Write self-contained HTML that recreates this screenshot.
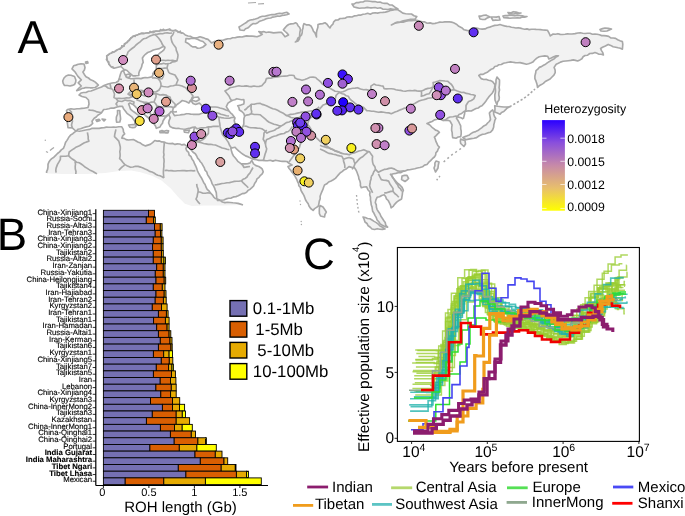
<!DOCTYPE html>
<html><head><meta charset="utf-8"><style>html,body{margin:0;padding:0;background:#fff;overflow:hidden}svg{display:block;will-change:transform;text-rendering:geometricPrecision}</style></head><body>
<svg width="685" height="516" viewBox="0 0 685 516" font-family="&quot;Liberation Sans&quot;, sans-serif">
<rect width="685" height="516" fill="#fff"/>
<defs><linearGradient id="hg" x1="0" y1="0" x2="0" y2="1"><stop offset="0" stop-color="#2a00ff"/><stop offset="0.25" stop-color="#8a4fdc"/><stop offset="0.5" stop-color="#c78aa8"/><stop offset="0.75" stop-color="#e8bf6c"/><stop offset="1" stop-color="#ffff00"/></linearGradient></defs>
<polygon points="46.6,173.0 46.6,171.7 48.0,164.4 51.7,158.6 57.5,153.5 63.4,148.4 65.5,142.5 69.2,136.7 76.5,130.8 75.2,130.5 72.3,127.9 68.0,127.7 67.5,124.0 67.2,121.9 66.8,116.0 66.5,110.5 67.5,109.5 71.0,108.8 77.0,108.8 84.0,108.3 88.0,107.5 89.0,104.0 88.5,100.0 86.0,97.5 82.0,96.5 79.0,95.0 81.0,93.0 86.0,92.5 91.0,91.0 95.0,89.5 98.0,88.3 101.5,87.0 104.0,85.5 108.0,84.0 112.0,83.0 116.0,82.5 118.4,81.0 119.5,77.5 120.5,74.0 121.5,71.5 123.5,70.5 123.5,69.0 121.0,66.5 117.0,67.5 114.0,68.2 110.0,65.5 107.5,61.0 106.7,56.0 110.0,53.5 114.0,52.0 118.0,49.5 121.3,47.7 126.0,43.0 130.0,39.0 136.0,35.3 146.0,33.0 156.0,31.0 168.0,29.5 177.0,31.0 183.0,33.0 188.0,36.0 195.0,38.0 200.0,36.8 208.0,39.4 211.5,42.9 215.0,41.2 225.5,39.4 232.6,37.7 246.6,35.9 257.0,36.8 262.3,34.2 258.8,31.5 271.0,32.4 281.6,32.4 285.0,36.8 288.6,35.0 283.4,29.8 288.6,24.5 295.6,22.8 297.0,23.6 300.5,29.8 299.6,36.8 295.3,42.0 298.0,41.0 301.5,35.0 303.0,28.0 304.0,23.6 311.0,26.0 315.0,33.0 316.5,37.0 317.0,30.0 318.0,24.5 325.0,22.8 330.0,28.0 335.5,20.1 342.6,18.4 356.6,15.8 365.3,14.0 377.6,13.1 388.0,11.4 397.5,9.6 402.8,13.1 411.5,14.0 416.8,16.6 415.0,19.3 406.0,20.3 397.5,22.0 391.4,24.9 397.5,22.8 406.0,21.2 416.8,20.3 422.0,21.9 432.6,23.6 444.8,21.9 453.6,22.8 458.8,26.3 464.1,29.8 469.3,30.7 476.4,28.0 485.1,28.9 492.1,26.3 500.0,24.5 511.4,27.3 524.7,29.2 547.4,30.2 550.3,35.9 553.1,34.0 572.1,34.0 577.8,33.0 594.9,34.0 606.3,35.9 617.7,39.7 622.4,41.6 622.4,49.2 615.8,47.3 608.2,44.4 602.5,47.3 600.6,48.5 603.4,54.9 594.9,52.5 585.0,55.5 580.0,59.9 577.6,61.0 573.3,59.9 565.8,61.0 560.5,62.1 556.2,64.2 554.1,67.4 555.2,72.7 552.0,77.0 547.7,80.2 543.4,83.4 537.6,87.5 536.0,81.2 534.9,75.9 536.0,70.6 539.2,67.4 545.6,64.2 552.0,59.9 558.4,55.7 556.2,55.7 548.8,58.9 547.7,56.2 539.2,56.7 532.8,62.1 526.4,64.2 520.0,62.6 508.2,62.3 498.9,64.7 491.2,69.3 485.0,73.2 478.8,75.5 481.1,78.6 486.5,79.4 492.7,81.7 495.0,84.8 493.5,91.0 490.5,95.0 486.0,101.0 482.0,105.7 476.0,108.5 471.3,111.0 463.9,111.5 459.0,114.5 456.4,118.0 458.6,121.5 460.7,125.9 461.2,131.2 460.7,136.6 456.0,138.2 452.7,137.6 451.6,130.2 452.1,124.8 450.0,121.0 443.1,120.5 440.0,118.9 434.4,119.9 427.0,123.6 432.0,127.3 439.4,132.3 434.4,137.2 436.9,143.4 439.4,147.1 434.4,157.0 427.0,164.5 420.0,167.5 412.1,169.3 405.1,171.0 398.1,172.8 391.1,174.5 394.6,179.8 399.9,185.0 403.4,190.3 401.6,199.0 394.6,204.3 391.1,207.8 389.3,202.6 384.1,194.7 377.1,197.3 375.3,202.6 377.1,209.6 382.3,218.3 387.6,227.1 382.3,225.3 377.1,220.0 372.7,211.3 371.0,202.6 370.0,192.0 366.6,186.8 361.3,187.7 357.8,174.5 354.3,167.5 349.0,166.6 343.8,170.1 340.3,172.8 333.3,179.8 324.5,185.0 321.0,193.8 318.4,206.0 313.1,210.4 309.0,206.0 306.7,201.7 301.7,191.8 296.8,179.4 291.8,172.0 288.0,166.5 292.1,165.0 286.9,161.5 278.1,160.7 267.6,160.7 254.4,159.5 251.8,158.6 248.3,156.9 243.0,154.3 238.6,150.8 235.1,147.3 230.8,148.1 231.6,151.6 235.1,157.8 237.8,161.3 241.3,163.9 245.6,163.9 250.0,163.0 251.8,160.4 253.5,163.9 258.8,166.5 262.3,169.2 263.2,171.8 260.5,175.3 257.0,178.8 253.6,186.0 246.6,192.2 236.0,196.6 223.8,200.0 217.5,200.5 216.8,197.9 215.3,190.1 212.2,183.9 207.5,174.6 202.9,165.3 196.7,156.0 189.7,148.3 190.5,144.5 188.6,145.0 187.4,146.7 185.8,148.3 192.0,159.1 196.7,168.4 201.3,177.7 206.0,187.0 210.6,193.2 215.3,198.5 225.0,202.6 238.0,203.4 243.0,205.0 224.0,205.4 205.0,205.6 191.9,206.0 184.9,203.7 177.9,196.7 170.8,188.6 161.5,180.4 152.1,175.7 140.5,172.2 131.1,170.6 119.4,171.0 105.4,172.9 86.7,174.1 63.4,174.1 47.0,173.4" fill="#f2f2f2" stroke="none"/>
<polyline points="46.6,173.0 46.6,171.7 47.6,169.4 48.0,166.9 48.0,164.4 48.8,162.2 50.1,160.3 51.7,158.6 53.9,157.2 55.7,155.4 57.5,153.5 59.6,151.9 61.3,149.9 63.4,148.4 64.6,145.5 65.5,142.5 66.8,140.6 68.0,138.7 69.2,136.7 70.8,134.9 72.8,133.7 74.6,132.2 76.5,130.8 75.2,130.5 72.3,127.9 68.0,127.7 67.5,124.0 67.2,121.9 67.2,118.9 66.8,116.0 67.2,113.2 66.5,110.5 67.5,109.5 71.0,108.8 74.0,109.3 77.0,108.8 79.3,108.7 81.7,108.4 84.0,108.3 88.0,107.5 89.0,104.0 88.5,100.0 86.0,97.5 82.0,96.5 79.0,95.0 81.0,93.0 83.5,92.5 86.0,92.5 88.4,91.3 91.0,91.0 95.0,89.5 98.0,88.3 101.5,87.0 104.0,85.5 108.0,84.0 112.0,83.0 116.0,82.5 118.4,81.0 119.5,77.5 120.5,74.0 121.5,71.5 123.5,70.5 123.5,69.0 121.0,66.5 117.0,67.5 114.0,68.2 111.7,67.3 110.0,65.5 108.7,63.3 107.5,61.0 106.9,58.5 106.7,56.0 110.0,53.5 114.0,52.0 115.9,50.6 118.0,49.5 121.3,47.7 123.2,46.4 124.5,44.6 126.0,43.0 128.0,41.0 130.0,39.0 131.8,37.5 133.7,36.1 136.0,35.3 138.5,34.5 140.9,33.8 143.5,33.6 146.0,33.0 148.6,33.0 151.0,32.2 153.4,31.2 156.0,31.0 158.5,31.1 160.8,30.7 163.2,30.4 165.7,30.2 168.0,29.5 170.2,30.2 172.4,30.6 174.8,30.5 177.0,31.0 179.8,32.5 183.0,33.0 185.2,34.9 188.0,36.0 190.4,36.3 192.6,37.6 195.0,38.0 197.6,37.6 200.0,36.8 202.7,37.6 205.3,38.6 208.0,39.4 209.8,41.1 211.5,42.9 215.0,41.2 217.7,41.2 220.3,40.3 222.9,40.2 225.5,39.4 227.8,38.7 230.3,38.7 232.6,37.7 235.0,37.8 237.3,37.1 239.6,36.9 242.0,37.0 244.3,36.4 246.6,35.9 249.2,36.1 251.8,36.0 254.4,36.4 257.0,36.8 259.7,35.7 262.3,34.2 260.3,33.1 258.8,31.5 261.2,32.1 263.7,31.6 266.1,32.5 268.6,32.0 271.0,32.4 273.6,32.9 276.3,32.6 279.0,32.4 281.6,32.4 283.3,34.6 285.0,36.8 288.6,35.0 287.0,33.1 285.2,31.5 283.4,29.8 285.0,27.9 286.6,26.0 288.6,24.5 290.9,23.9 293.4,23.8 295.6,22.8 297.0,23.6 298.0,25.7 299.7,27.5 300.5,29.8 299.9,32.1 299.7,34.4 299.6,36.8 297.8,38.2 297.0,40.5 295.3,42.0 298.0,41.0 299.4,39.1 299.9,36.8 301.5,35.0 302.2,32.7 302.3,30.3 303.0,28.0 303.2,25.7 304.0,23.6 306.2,24.8 308.8,24.8 311.0,26.0 312.3,28.3 313.3,30.9 315.0,33.0 316.5,37.0 316.4,34.6 316.5,32.3 317.0,30.0 317.9,27.3 318.0,24.5 320.3,23.9 322.7,23.6 325.0,22.8 327.0,24.2 328.4,26.2 330.0,28.0 331.1,25.8 332.9,24.2 333.7,21.8 335.5,20.1 338.0,20.0 340.1,18.5 342.6,18.4 345.0,18.2 347.2,17.0 349.6,16.8 352.0,17.0 354.2,15.9 356.6,15.8 358.7,15.0 361.0,15.1 363.1,14.3 365.3,14.0 367.7,13.3 370.3,14.2 372.7,13.1 375.1,12.8 377.6,13.1 380.2,12.5 382.8,12.4 385.4,12.1 388.0,11.4 390.3,10.5 392.7,10.3 395.0,9.5 397.5,9.6 400.2,11.3 402.8,13.1 405.7,13.7 408.6,14.0 411.5,14.0 414.0,15.7 416.8,16.6 415.0,19.3 412.7,19.3 410.5,19.4 408.2,19.8 406.0,20.3 403.2,20.9 400.4,21.7 397.5,22.0 395.4,22.8 393.5,24.1 391.4,24.9 394.3,23.4 397.5,22.8 400.3,22.2 403.2,22.1 406.0,21.2 408.7,20.6 411.4,20.8 414.1,20.4 416.8,20.3 419.4,21.1 422.0,21.9 424.7,21.9 427.2,23.2 430.0,22.9 432.6,23.6 435.1,23.4 437.5,22.8 439.8,22.1 442.4,22.3 444.8,21.9 447.0,21.7 449.2,21.9 451.5,22.1 453.6,22.8 456.4,24.2 458.8,26.3 461.7,27.7 464.1,29.8 466.7,30.4 469.3,30.7 471.7,29.8 474.2,29.4 476.4,28.0 479.3,28.8 482.1,29.1 485.1,28.9 487.3,27.8 489.7,27.1 492.1,26.3 494.7,25.4 497.4,25.2 500.0,24.5 502.2,25.2 504.5,25.9 506.8,26.4 509.2,26.5 511.4,27.3 513.6,27.5 515.8,28.0 518.1,27.7 520.3,28.1 522.5,28.8 524.7,29.2 527.0,28.9 529.2,29.6 531.5,29.2 533.8,29.2 536.1,29.4 538.3,29.5 540.6,29.6 542.9,30.0 545.1,30.1 547.4,30.2 549.0,33.0 550.3,35.9 553.1,34.0 555.5,34.2 557.9,33.7 560.2,34.4 562.6,34.5 565.0,34.3 567.4,33.9 569.7,34.0 572.1,34.0 575.0,33.6 577.8,33.0 580.3,32.7 582.7,33.2 585.1,33.5 587.6,33.2 590.0,33.3 592.4,34.2 594.9,34.0 597.2,34.2 599.5,34.8 601.7,35.6 604.0,35.6 606.3,35.9 608.7,36.4 610.7,37.9 613.2,38.0 615.6,38.4 617.7,39.7 620.0,40.8 622.4,41.6 622.8,44.1 622.6,46.7 622.4,49.2 620.3,48.2 618.1,47.8 615.8,47.3 613.1,46.8 610.7,45.4 608.2,44.4 605.4,45.9 602.5,47.3 600.6,48.5 601.5,50.6 602.8,52.6 603.4,54.9 601.3,54.2 599.0,54.2 597.0,53.3 594.9,52.5 592.5,53.4 589.8,53.5 587.6,55.2 585.0,55.5 583.1,56.8 581.9,58.7 580.0,59.9 577.6,61.0 575.5,60.4 573.3,59.9 570.8,60.4 568.3,60.7 565.8,61.0 563.1,61.3 560.5,62.1 558.4,63.3 556.2,64.2 554.1,67.4 555.1,70.0 555.2,72.7 553.9,75.1 552.0,77.0 550.1,79.0 547.7,80.2 545.3,81.5 543.4,83.4 541.4,84.6 539.2,85.7 537.6,87.5 537.0,84.3 536.0,81.2 534.9,78.7 534.9,75.9 535.6,73.3 536.0,70.6 537.8,69.2 539.2,67.4 541.4,66.6 543.5,65.3 545.6,64.2 547.6,62.6 549.8,61.3 552.0,59.9 554.3,58.8 556.1,56.9 558.4,55.7 556.2,55.7 553.7,56.7 551.3,57.9 548.8,58.9 547.7,56.2 544.8,55.9 542.0,56.2 539.2,56.7 536.8,58.1 534.7,60.0 532.8,62.1 530.7,63.0 528.6,63.8 526.4,64.2 523.2,63.4 520.0,62.6 517.6,62.8 515.3,62.6 512.9,62.2 510.6,61.9 508.2,62.3 505.9,62.8 503.5,63.2 501.3,64.5 498.9,64.7 497.1,66.0 494.8,66.5 493.3,68.5 491.2,69.3 489.2,70.7 487.3,72.3 485.0,73.2 483.1,74.4 480.7,74.3 478.8,75.5 481.1,78.6 483.7,79.5 486.5,79.4 488.5,80.3 490.8,80.6 492.7,81.7 495.0,84.8 494.5,88.0 493.5,91.0 492.2,93.2 490.5,95.0 488.8,96.9 487.3,98.9 486.0,101.0 484.1,103.4 482.0,105.7 480.0,106.6 478.2,108.0 476.0,108.5 473.6,109.7 471.3,111.0 468.8,110.7 466.3,111.1 463.9,111.5 461.7,113.4 459.0,114.5 456.4,118.0 458.6,121.5 459.6,123.7 460.7,125.9 460.7,128.6 461.2,131.2 461.2,133.9 460.7,136.6 458.2,137.0 456.0,138.2 452.7,137.6 452.3,135.1 452.2,132.6 451.6,130.2 451.7,127.5 452.1,124.8 450.0,121.0 447.7,120.3 445.4,120.4 443.1,120.5 440.0,118.9 437.2,119.3 434.4,119.9 432.1,121.5 429.5,122.4 427.0,123.6 429.8,125.0 432.0,127.3 433.8,128.6 435.5,130.1 437.7,130.8 439.4,132.3 437.7,133.9 436.1,135.6 434.4,137.2 435.3,139.2 435.9,141.4 436.9,143.4 437.8,145.5 439.4,147.1 438.2,149.0 437.4,151.1 435.9,152.8 435.6,155.1 434.4,157.0 432.4,158.7 430.6,160.6 428.6,162.4 427.0,164.5 424.5,165.1 422.5,166.8 420.0,167.5 417.3,168.0 414.8,168.8 412.1,169.3 409.7,169.7 407.3,169.9 405.1,171.0 402.7,171.5 400.6,172.7 398.1,172.8 395.8,173.4 393.4,173.7 391.1,174.5 392.5,177.4 394.6,179.8 396.3,181.7 397.9,183.5 399.9,185.0 402.1,187.4 403.4,190.3 402.5,192.4 402.3,194.6 401.9,196.8 401.6,199.0 399.0,200.4 396.7,202.2 394.6,204.3 393.2,206.4 391.1,207.8 390.5,205.1 389.3,202.6 388.2,200.5 386.4,198.8 385.6,196.5 384.1,194.7 381.7,195.5 379.6,196.8 377.1,197.3 375.9,199.8 375.3,202.6 376.3,204.8 376.4,207.3 377.1,209.6 378.5,211.7 379.9,213.8 380.9,216.2 382.3,218.3 383.7,220.5 385.2,222.5 385.8,225.2 387.6,227.1 384.8,226.6 382.3,225.3 380.2,223.9 378.8,221.8 377.1,220.0 376.3,217.7 375.1,215.6 374.0,213.3 372.7,211.3 372.3,209.1 372.0,206.9 371.2,204.8 371.0,202.6 370.5,200.0 370.5,197.3 369.7,194.7 370.0,192.0 367.9,189.7 366.6,186.8 363.9,187.0 361.3,187.7 360.4,185.6 360.4,183.2 359.9,181.0 358.9,178.9 358.6,176.7 357.8,174.5 356.9,172.0 355.8,169.7 354.3,167.5 351.6,167.4 349.0,166.6 346.6,168.7 343.8,170.1 342.1,171.6 340.3,172.8 338.6,174.6 337.0,176.5 335.4,178.4 333.3,179.8 331.1,181.0 328.6,182.0 326.8,183.8 324.5,185.0 323.6,187.2 322.9,189.4 321.9,191.6 321.0,193.8 320.1,196.2 320.2,198.7 319.3,201.1 318.9,203.6 318.4,206.0 316.6,207.4 314.6,208.6 313.1,210.4 310.7,208.5 309.0,206.0 308.2,203.7 306.7,201.7 305.5,199.8 304.8,197.7 304.0,195.6 302.9,193.7 301.7,191.8 300.8,189.8 300.4,187.5 298.8,185.8 298.6,183.5 297.5,181.5 296.8,179.4 295.6,177.5 294.6,175.5 293.3,173.7 291.8,172.0 290.6,170.1 289.1,168.5 288.0,166.5 292.1,165.0 289.3,163.5 286.9,161.5 284.7,161.3 282.5,161.4 280.3,161.1 278.1,160.7 275.5,160.2 272.9,161.1 270.2,160.3 267.6,160.7 265.4,160.6 263.2,160.4 261.0,160.3 258.8,160.4 256.6,159.7 254.4,159.5 251.8,158.6 248.3,156.9 245.5,155.9 243.0,154.3 240.8,152.6 238.6,150.8 236.7,149.2 235.1,147.3 230.8,148.1 231.6,151.6 232.4,153.9 233.5,156.0 235.1,157.8 236.5,159.5 237.8,161.3 241.3,163.9 245.6,163.9 247.8,163.6 250.0,163.0 251.8,160.4 253.5,163.9 255.9,165.6 258.8,166.5 260.7,167.7 262.3,169.2 263.2,171.8 262.2,173.8 260.5,175.3 259.0,177.3 257.0,178.8 256.2,181.3 254.6,183.5 253.6,186.0 251.9,187.7 250.2,189.2 248.1,190.4 246.6,192.2 244.6,193.4 242.2,193.6 240.2,194.7 238.2,195.8 236.0,196.6 233.5,196.9 231.2,198.1 228.6,198.2 226.1,198.9 223.8,200.0 220.6,200.2 217.5,200.5 216.8,197.9 216.5,195.3 216.3,192.6 215.3,190.1 214.5,187.9 213.5,185.8 212.2,183.9 211.4,181.4 210.3,179.0 208.9,176.8 207.5,174.6 206.8,172.0 205.0,170.1 204.2,167.6 202.9,165.3 201.8,163.3 200.3,161.7 199.1,159.8 197.6,158.1 196.7,156.0 195.3,153.7 193.1,152.3 191.4,150.2 189.7,148.3 190.5,144.5 188.6,145.0 187.4,146.7 185.8,148.3 186.7,150.7 188.6,152.4 189.1,155.0 191.1,156.7 192.0,159.1 193.6,161.2 194.5,163.7 195.7,166.0 196.7,168.4 197.4,170.9 198.6,173.2 199.9,175.5 201.3,177.7 202.5,180.0 203.6,182.4 205.1,184.5 206.0,187.0 207.2,189.3 209.2,191.1 210.6,193.2 212.3,194.8 213.6,196.8 215.3,198.5 217.9,199.2 220.2,200.4 222.4,202.0 225.0,202.6 227.6,202.3 230.2,202.5 232.8,202.8 235.4,203.0 238.0,203.4 240.5,204.1 243.0,205.0" fill="none" stroke="#a8a8a8" stroke-width="1.65" stroke-linejoin="round"/>
<polygon points="76.5,130.8 79.6,131.2 82.0,130.8 84.5,130.2 86.9,129.8 89.4,129.4 91.7,128.4 94.2,128.2 96.6,128.4 99.1,128.4 101.5,127.9 103.9,127.8 106.3,127.1 108.8,127.2 111.2,127.2 113.5,127.0 115.9,127.2 118.8,126.7 121.8,126.8 123.2,129.4 123.5,131.8 124.7,133.8 122.8,135.6 121.8,138.1 124.1,138.4 126.1,139.6 128.5,140.0 131.0,139.7 133.4,139.6 135.7,140.7 137.8,142.0 140.5,143.1 142.8,144.8 145.5,145.9 147.8,145.1 150.2,144.4 152.6,142.6 154.8,140.5 157.1,141.1 159.5,140.9 161.7,141.9 164.1,142.0 166.2,143.0 168.3,143.5 170.6,143.6 172.9,143.4 175.0,144.4 177.3,143.9 179.7,144.0 182.0,144.9 184.3,144.4 187.4,146.7 188.9,143.6 189.7,141.4 190.8,139.4 192.0,137.4 193.2,134.4 193.6,131.2 194.1,129.0 195.0,127.0 192.7,127.4 190.3,128.1 188.0,128.5 185.3,129.2 182.6,129.0 180.4,128.7 178.2,128.3 176.0,128.5 172.9,127.9 170.0,126.5 168.6,123.0 169.2,120.3 170.3,117.8 168.6,114.3 166.9,116.1 165.0,117.8 163.0,121.0 162.5,123.2 161.0,125.0 160.0,127.0 156.3,128.3 155.5,126.0 154.0,124.0 152.1,121.4 150.0,119.0 148.0,117.5 146.0,116.0 143.7,113.9 141.0,112.5 138.7,110.8 137.0,108.5 135.1,106.4 133.0,104.5 130.0,103.0 128.6,104.0 129.6,106.5 130.4,109.0 132.5,110.8 134.8,112.5 138.3,115.1 140.9,117.8 143.5,120.4 141.0,121.5 139.0,121.5 137.5,123.9 135.6,126.5 134.8,124.0 134.8,121.3 133.0,118.6 131.5,116.6 129.5,115.1 127.0,113.3 125.1,110.8 123.5,108.8 122.5,106.4 119.7,106.4 117.0,107.0 113.8,108.1 111.2,108.0 108.8,108.8 106.3,109.2 103.7,109.5 101.5,112.8 99.7,114.1 97.8,115.3 96.2,117.0 94.2,118.2 92.0,121.2 92.7,123.4 91.1,125.0 89.1,126.3 86.1,126.9 83.2,127.7 80.7,128.8 78.1,129.2 76.5,130.8" fill="#fff" stroke="#a8a8a8" stroke-width="1.65" stroke-linejoin="round"/>
<polygon points="172.5,112.3 173.1,108.4 175.1,106.4 177.1,104.5 179.7,102.6 182.3,100.5 186.0,101.5 188.9,103.1 190.0,101.0 191.5,101.2 193.0,103.5 195.5,104.5 199.4,103.1 202.0,105.8 203.4,109.7 204.7,113.0 201.9,113.2 199.4,114.3 196.2,114.3 192.9,114.3 190.7,114.1 188.5,113.8 186.3,113.7 184.2,114.5 181.9,114.6 179.7,115.0 177.1,115.2 174.5,115.6 172.5,112.3" fill="#fff" stroke="#a8a8a8" stroke-width="1.65" stroke-linejoin="round"/>
<polygon points="191.5,100.5 193.5,97.5 195.7,97.2 198.0,97.0 199.5,99.5 196.0,101.5 193.8,100.8 191.5,100.5" fill="#fff" stroke="#a8a8a8" stroke-width="1.65" stroke-linejoin="round"/>
<polygon points="230.7,101.3 232.6,100.2 234.8,99.8 236.8,98.7 239.1,99.2 241.4,99.7 243.8,99.6 244.1,101.8 243.8,104.0 240.8,105.1 237.7,105.7 238.9,107.7 239.4,110.0 241.8,111.5 243.8,113.5 244.6,116.1 243.9,118.7 243.8,121.4 243.8,124.1 242.9,126.6 241.1,128.3 238.5,126.6 235.9,124.9 234.8,122.8 234.2,120.5 235.0,117.9 232.4,114.4 230.5,112.8 229.0,110.9 227.6,108.8 226.3,106.6 228.0,103.1 230.7,101.3" fill="#fff" stroke="#a8a8a8" stroke-width="1.65" stroke-linejoin="round"/>
<polygon points="164.5,46.5 165.0,47.7 163.9,49.8 162.2,51.4 159.9,53.0 157.8,55.0 156.2,56.7 154.9,58.7 153.4,60.9 156.3,61.0 158.7,61.3 161.0,60.4 163.3,60.3 165.7,60.6 168.0,60.2 170.2,60.5 172.5,60.3 174.7,60.9 177.0,60.8 174.8,61.6 172.4,61.9 170.4,63.2 168.0,63.5 165.8,63.9 163.6,63.2 161.4,63.9 159.2,63.8 156.3,65.3 156.3,69.6 153.4,72.6 152.9,74.8 151.9,76.9 147.6,77.7 145.4,77.5 143.2,77.9 141.0,78.6 138.8,78.4 136.1,78.4 133.5,78.6 131.0,78.8 127.0,77.5 125.0,74.5 123.6,71.2 124.6,69.6 127.0,70.5 130.0,73.5 133.0,75.8 135.9,75.8 138.8,75.5 138.8,73.2 139.5,71.1 140.7,69.0 141.7,66.7 142.1,64.4 143.2,62.3 142.4,58.0 143.8,56.0 145.4,54.3 147.7,52.5 150.5,51.4 153.3,50.0 156.3,49.2 159.4,48.6 162.2,47.0 164.5,46.5" fill="#fff" stroke="#a8a8a8" stroke-width="1.65" stroke-linejoin="round"/>
<polygon points="186.0,38.5 189.0,38.9 192.0,38.3 195.1,38.4 198.0,39.5 200.4,40.7 203.0,41.5 206.0,44.5 203.0,47.0 200.3,48.0 197.5,48.2 195.4,46.8 192.6,46.9 190.5,45.5 188.2,43.4 185.5,42.0 186.0,38.5" fill="#fff" stroke="#a8a8a8" stroke-width="1.65" stroke-linejoin="round"/>
<polygon points="73.6,65.8 75.9,65.1 78.2,64.3 81.1,63.9 84.0,64.0 85.0,67.5 84.4,70.0 82.9,72.0 84.3,74.4 86.0,76.7 88.5,78.0 90.6,79.8 93.1,80.7 95.3,82.1 98.4,85.2 95.3,87.5 92.7,87.8 90.0,87.8 86.0,87.5 83.9,88.1 81.7,88.5 79.8,89.8 76.7,90.6 79.0,88.0 81.3,86.0 78.2,82.9 81.3,79.8 78.2,76.7 76.6,74.4 75.1,72.0 72.0,68.9 73.6,65.8" fill="#f2f2f2" stroke="#a8a8a8" stroke-width="1.65" stroke-linejoin="round"/>
<polygon points="66.0,76.0 68.4,75.1 71.0,75.3 74.5,76.5 75.9,80.0 75.6,82.4 74.5,84.5 72.3,85.4 70.0,86.0 67.3,85.5 64.5,85.5 63.2,83.4 62.7,81.0 64.0,78.0 66.0,76.0" fill="#f2f2f2" stroke="#a8a8a8" stroke-width="1.65" stroke-linejoin="round"/>
<polygon points="85.5,62.0 87.5,61.5 88.0,63.0 86.0,63.5 85.5,62.0" fill="#f2f2f2" stroke="#a8a8a8" stroke-width="1.65" stroke-linejoin="round"/>
<polygon points="239.0,27.0 241.3,25.6 243.6,24.1 245.9,22.8 248.0,21.0 250.3,20.0 252.9,19.6 255.3,19.0 257.7,18.2 260.0,17.0 262.3,16.2 264.8,16.2 267.2,15.6 269.6,15.0 272.0,14.5 274.6,14.6 277.0,13.8 279.5,13.3 282.1,13.5 284.5,12.8 287.0,12.3 289.0,14.0 286.7,14.7 284.4,15.1 282.0,15.4 279.8,16.3 277.3,16.1 275.0,16.7 272.8,17.1 270.7,18.0 268.4,18.2 266.2,18.8 264.1,19.8 262.0,20.5 259.7,21.2 257.8,22.7 255.6,23.7 253.0,23.6 251.0,25.0 249.4,26.6 247.7,28.0 245.5,28.8 244.0,30.5 240.0,30.0 239.0,27.0" fill="#f2f2f2" stroke="#a8a8a8" stroke-width="1.65" stroke-linejoin="round"/>
<polygon points="497.0,77.0 499.5,80.0 499.5,82.5 499.4,85.0 499.1,87.5 499.5,90.0 498.9,92.5 498.8,95.0 499.3,97.5 499.0,100.0 497.5,102.1 497.0,104.6 495.9,102.3 495.0,100.0 494.9,97.5 494.8,95.0 495.4,92.5 495.5,90.0 495.2,87.5 495.5,85.0 496.0,82.5 496.0,80.0 497.0,77.0" fill="#f2f2f2" stroke="#a8a8a8" stroke-width="1.65" stroke-linejoin="round"/>
<polygon points="494.7,105.7 497.9,106.3 501.1,106.7 504.0,107.0 506.8,107.0 509.7,106.7 507.3,108.0 505.4,109.9 503.8,111.5 501.5,112.4 500.1,114.2 497.4,113.0 494.7,112.0 495.0,108.8 494.7,105.7" fill="#f2f2f2" stroke="#a8a8a8" stroke-width="1.65" stroke-linejoin="round"/>
<polygon points="492.6,109.9 493.6,112.0 493.7,114.3 494.5,116.5 495.8,118.4 494.8,120.4 494.4,122.6 493.8,124.8 493.7,127.0 492.6,129.9 490.5,132.3 487.6,132.9 484.9,134.0 482.0,134.4 479.2,135.8 476.6,137.6 474.0,138.2 471.3,138.6 468.6,139.1 466.0,139.7 462.8,137.6 465.0,136.6 467.2,135.8 469.4,134.9 471.3,133.4 473.3,132.2 475.7,131.6 477.9,130.6 479.8,129.1 481.9,127.6 483.8,125.9 486.2,124.8 487.6,123.0 489.3,121.5 490.5,119.5 490.0,116.3 489.4,113.1 490.8,111.3 492.6,109.9" fill="#f2f2f2" stroke="#a8a8a8" stroke-width="1.65" stroke-linejoin="round"/>
<polygon points="460.7,139.0 462.8,139.9 465.0,140.5 465.5,144.0 463.9,146.5 460.7,143.5 460.3,141.2 460.7,139.0" fill="#f2f2f2" stroke="#a8a8a8" stroke-width="1.65" stroke-linejoin="round"/>
<polygon points="436.0,161.0 439.0,162.0 438.3,165.0 438.0,168.0 436.8,170.0 435.5,172.0 434.0,168.0 434.9,165.7 434.9,163.2 436.0,161.0" fill="#f2f2f2" stroke="#a8a8a8" stroke-width="1.65" stroke-linejoin="round"/>
<polygon points="402.0,176.0 404.5,175.4 407.0,175.4 408.6,178.5 406.9,180.1 405.0,181.5 401.6,179.5 402.0,176.0" fill="#f2f2f2" stroke="#a8a8a8" stroke-width="1.65" stroke-linejoin="round"/>
<polygon points="320.0,205.5 323.0,207.0 324.7,209.5 326.3,212.0 325.0,214.4 324.5,217.0 320.5,216.0 319.4,213.6 319.3,211.0 319.4,208.2 320.0,205.5" fill="#f2f2f2" stroke="#a8a8a8" stroke-width="1.65" stroke-linejoin="round"/>
<polygon points="128.6,125.0 130.8,124.7 133.0,124.6 136.5,124.8 135.0,127.4 132.5,127.6 130.0,127.2 128.6,125.0" fill="#f2f2f2" stroke="#a8a8a8" stroke-width="1.65" stroke-linejoin="round"/>
<polygon points="117.5,110.5 119.8,110.5 119.9,113.3 120.3,116.0 120.6,119.0 119.8,122.0 116.6,122.2 116.3,119.6 116.4,117.0 117.6,114.0 117.5,110.5" fill="#f2f2f2" stroke="#a8a8a8" stroke-width="1.65" stroke-linejoin="round"/>
<polygon points="159.8,131.2 162.0,130.6 164.2,131.2 166.4,130.5 168.6,130.8 168.0,132.8 165.3,132.8 162.7,132.5 160.0,132.7 159.8,131.2" fill="#f2f2f2" stroke="#a8a8a8" stroke-width="1.65" stroke-linejoin="round"/>
<polygon points="184.0,130.6 186.8,130.2 189.6,130.0 188.5,132.7 184.5,132.2 184.0,130.6" fill="#f2f2f2" stroke="#a8a8a8" stroke-width="1.65" stroke-linejoin="round"/>
<polygon points="363.0,217.0 365.3,217.5 367.5,218.5 369.9,218.8 372.0,220.0 374.1,221.4 376.3,222.6 378.3,224.1 380.0,226.0 382.6,227.3 385.0,229.0 382.4,229.4 379.8,229.2 377.2,228.7 374.6,229.5 372.0,229.0 370.3,227.2 368.2,225.8 367.0,223.5 365.0,222.0 364.2,219.4 363.0,217.0" fill="#f2f2f2" stroke="#a8a8a8" stroke-width="1.65" stroke-linejoin="round"/>
<polygon points="479.0,16.0 481.4,16.1 483.7,15.2 486.0,15.0 488.0,16.1 490.0,17.0 487.3,17.9 485.0,19.5 482.5,19.5 480.0,19.0 479.0,16.0" fill="#f2f2f2" stroke="#a8a8a8" stroke-width="1.65" stroke-linejoin="round"/>
<polygon points="600.0,29.5 602.5,28.6 605.0,28.0 608.3,28.4 611.5,29.0 609.3,30.0 607.0,31.0 604.0,31.2 601.0,31.0 600.0,29.5" fill="#f2f2f2" stroke="#a8a8a8" stroke-width="1.65" stroke-linejoin="round"/>
<polygon points="96.0,120.0 99.0,119.3 100.0,120.5 97.0,121.5 96.0,120.0" fill="#f2f2f2" stroke="#a8a8a8" stroke-width="1.65" stroke-linejoin="round"/>
<polygon points="102.0,119.0 105.5,119.5 104.0,121.0 102.0,119.0" fill="#f2f2f2" stroke="#a8a8a8" stroke-width="1.65" stroke-linejoin="round"/>
<polygon points="126.0,74.8 129.0,74.0 130.6,75.8 128.8,77.6 126.2,77.0 126.0,74.8" fill="#f2f2f2" stroke="#a8a8a8" stroke-width="1.65" stroke-linejoin="round"/>
<polygon points="503.0,16.0 505.2,15.5 507.5,15.6 509.7,15.0 512.0,15.2 514.7,15.7 517.3,15.1 520.0,15.5 522.3,15.9 524.6,16.6 527.0,16.5 524.7,17.1 522.2,17.0 520.0,18.0 517.5,17.8 515.0,18.0 512.5,18.0 510.0,18.2 507.0,17.9 504.0,17.8 503.0,16.0" fill="#f2f2f2" stroke="#a8a8a8" stroke-width="1.65" stroke-linejoin="round"/>
<polygon points="508.0,12.5 510.7,12.9 513.3,11.7 516.0,12.0 518.5,12.7 521.0,13.0 518.7,13.4 516.3,13.2 514.0,14.0 511.5,14.0 509.0,13.8 508.0,12.5" fill="#f2f2f2" stroke="#a8a8a8" stroke-width="1.65" stroke-linejoin="round"/>
<polygon points="491.0,17.0 493.7,17.0 496.4,17.1 499.0,16.5 500.0,20.0 497.7,20.2 495.3,20.1 493.0,20.5 491.0,17.0" fill="#f2f2f2" stroke="#a8a8a8" stroke-width="1.65" stroke-linejoin="round"/>
<polygon points="352.0,4.0 354.3,3.9 356.2,2.6 358.5,2.6 360.7,2.0 362.9,2.0 365.0,1.0 367.5,1.0 370.0,1.3 372.5,1.6 375.0,1.5 377.5,2.3 380.0,2.0 382.3,3.0 384.7,3.4 387.3,3.3 389.5,4.9 392.0,5.0 394.0,6.4 395.9,7.8 398.0,9.0 395.5,9.1 393.0,9.2 390.5,8.9 388.0,9.5 385.4,9.3 382.7,9.1 380.3,7.8 377.6,8.2 375.0,7.5 372.4,7.8 369.8,7.8 367.2,7.4 364.6,8.0 362.0,8.0 359.3,8.2 356.6,7.6 354.0,7.0 352.0,4.0" fill="#f2f2f2" stroke="#a8a8a8" stroke-width="1.65" stroke-linejoin="round"/>
<polyline points="509.7,106.7 516,103 523,99 529,94.5 535,89" fill="none" stroke="#a8a8a8" stroke-width="1.6" stroke-dasharray="2.2 2"/>
<polyline points="356.5,195 357,200 357.5,205 358.5,211 359.5,214" fill="none" stroke="#a8a8a8" stroke-width="1.3" stroke-dasharray="1.8 2.2"/>
<polyline points="461,148.5 456,152 451,155.5 446.5,159.5 443,162.5" fill="none" stroke="#a8a8a8" stroke-width="1.5" stroke-dasharray="2 3"/>
<polyline points="440,176 437.5,179 435.5,182" fill="none" stroke="#a8a8a8" stroke-width="1.4" stroke-dasharray="1.6 2.2"/>
<polyline points="248,3 256,2.5" fill="none" stroke="#a8a8a8" stroke-width="1.2"/>
<polyline points="258,4 264,3.6" fill="none" stroke="#a8a8a8" stroke-width="1.2"/>
<polyline points="114.0,68.2 113.1,66.7 111.1,66.8 110.0,65.5 108.6,64.3 109.1,62.1 107.5,61.0 106.2,59.5 106.9,57.7 106.7,56.0 108.4,54.9 110.0,53.5 111.4,53.3 112.3,51.6 114.0,52.0 115.5,51.5 116.7,50.3 118.0,49.5 120.1,49.4 121.3,47.7 121.6,45.7 124.5,46.2 124.2,43.6 126.0,43.0 127.6,42.6 128.0,41.0 129.6,40.6 130.0,39.0 130.8,37.6 132.2,37.1 133.0,35.9 135.2,36.7 136.0,35.3 137.4,35.1 138.7,33.9 140.1,33.5 141.5,32.9 143.0,32.9 144.6,33.5 146.0,33.0 147.4,32.6 149.0,32.9 150.1,31.1 151.9,32.7 153.4,32.8 154.7,31.9 156.0,31.0 157.6,31.4 159.1,31.5 160.4,29.4 162.0,30.1 163.4,29.0 165.1,30.6 166.5,29.8 168.0,29.5 169.7,28.7 171.0,29.9 172.4,31.0 174.0,30.6 175.7,29.8 177.0,31.0 178.1,32.6 180.4,30.9 181.2,33.3 183.0,33.0" fill="none" stroke="#a8a8a8" stroke-width="1.2" stroke-linejoin="round"/>
<polyline points="46,151.5 48,152.5" fill="none" stroke="#a8a8a8" stroke-width="1.3"/>
<polyline points="50,150.5 52.5,148.5 54,147.5" fill="none" stroke="#a8a8a8" stroke-width="1.3"/>
<circle cx="300" cy="201" r="0.7" fill="#a8a8a8"/>
<circle cx="300.5" cy="204.5" r="0.7" fill="#a8a8a8"/>
<circle cx="301.2" cy="221.5" r="0.7" fill="#a8a8a8"/>
<circle cx="301.4" cy="224.5" r="0.7" fill="#a8a8a8"/>
<circle cx="45.3" cy="140.3" r="0.7" fill="#a8a8a8"/>
<polyline points="231.6,100.5 230.1,98.4 229.0,96.0 227.0,93.5 225.0,91.0 227.8,89.4 230.3,87.5 232.5,87.2 234.7,86.8 236.8,86.2 239.0,85.8 241.4,86.2 243.9,86.1 246.4,85.9 248.8,86.4 251.3,86.6 253.9,86.0 256.6,86.5 259.2,86.4 261.8,85.8 263.5,83.8 265.3,81.9 266.4,78.6 268.6,78.1 270.9,78.2 273.1,77.4 275.3,77.1 277.6,77.0 279.9,76.4 282.3,76.2 284.7,76.1 287.1,76.0 289.4,75.3 291.7,75.2 294.0,75.5 295.0,78.0 297.2,79.1 299.7,79.5 302.0,80.2 304.8,79.5 307.4,78.5 310.0,77.3 312.9,77.1 315.7,77.5 317.3,79.2 319.2,80.6 320.9,82.2 322.3,84.1 324.9,85.4 327.3,87.0 330.0,88.2 332.5,89.7 335.1,91.2 337.7,91.5 340.2,92.3 342.8,91.7 345.4,90.8 347.8,89.4 350.4,88.7 352.8,88.3 355.2,88.1 357.6,87.7 360.5,89.0 363.7,89.7 366.1,89.6 368.5,90.1 370.9,90.2 370.9,86.1 373.9,84.1 376.1,85.0 378.5,85.2 380.8,85.8 383.1,86.1 384.1,88.7 386.5,88.9 388.9,88.7 391.3,88.7 393.7,89.0 395.9,89.7 398.3,90.1 400.6,90.4 402.9,91.0 405.3,91.2 407.6,90.7 410.0,90.6 412.4,90.7 414.7,90.4 416.9,90.9 419.1,91.1 421.3,91.0 423.5,90.2 425.6,89.1 427.9,88.4 430.6,88.0 433.1,87.1 433.4,84.8 433.1,82.5 435.3,82.0 437.6,81.4 439.7,80.5 442.3,80.7 445.0,81.0 447.6,81.2 449.5,82.9 451.5,84.5 453.1,87.0 454.1,89.7 456.7,90.8 459.4,91.7 461.6,92.5 464.1,92.4 466.3,93.4 468.6,93.7 470.8,94.5 473.1,94.7 475.2,95.6 473.8,98.9 471.4,100.5 468.6,101.5 467.2,103.5 466.0,105.5 466.0,109.4 464.8,112.0 464.5,114.3 463.9,116.6 463.3,118.9" fill="none" stroke="#a8a8a8" stroke-width="1.65" stroke-linejoin="round"/>
<polyline points="340.2,92.8 342.2,93.7 344.4,94.3 346.2,95.8 348.4,96.3 349.6,98.6 351.4,100.4 353.1,101.7 354.8,103.2 356.6,104.5 359.1,105.3 361.4,106.4 363.7,107.6 366.8,110.6 369.1,110.7 371.4,111.3 373.7,111.2 376.0,111.7 378.5,112.3 381.1,111.9 383.7,112.2 386.2,112.7 388.8,112.9 391.3,113.7 395.0,112.0 397.3,111.3 399.3,110.2 401.5,109.4 403.7,108.4 406.0,107.8 408.1,106.8 410.3,105.6 412.4,104.4 414.7,103.5 416.8,102.3 419.0,101.0 421.3,100.2 423.6,99.8 425.7,99.1 427.9,98.3 430.1,98.0 432.3,97.7 434.4,96.9 436.6,96.4 438.8,95.9 441.0,95.5 443.0,94.3 445.0,93.1 447.0,92.0 449.4,91.4 451.6,90.1 454.1,89.7" fill="none" stroke="#a8a8a8" stroke-width="1.65" stroke-linejoin="round"/>
<polyline points="421.3,91.0 421.6,93.7 421.3,96.3 424.0,95.5 426.5,94.3 429.2,93.7 430.6,91.6 431.9,89.3 433.1,87.1" fill="none" stroke="#a8a8a8" stroke-width="1.65" stroke-linejoin="round"/>
<polyline points="443.1,120.5 445.6,119.7 447.7,118.1 450.0,117.0 453.0,116.7 456.0,116.0 458.4,117.1 461.0,117.7 463.3,118.9" fill="none" stroke="#a8a8a8" stroke-width="1.65" stroke-linejoin="round"/>
<polyline points="340.2,92.3 337.9,93.5 336.1,95.3 335.1,99.4 332.4,101.1 330.0,103.3 327.5,103.6 325.0,104.3" fill="none" stroke="#a8a8a8" stroke-width="1.65" stroke-linejoin="round"/>
<polyline points="244.3,110.3 246.2,109.0 247.7,107.2 249.7,105.9 251.3,104.2 254.2,104.3 257.1,103.5 260.0,103.3 262.0,104.4 264.3,104.9 266.4,105.7 268.4,106.7 270.5,107.7 272.8,108.8 275.3,109.2 277.6,110.3 280.1,111.7 282.8,112.9 286.3,115.5 288.5,115.0 290.6,114.4 292.9,114.2 295.1,113.8 297.4,113.1 299.8,112.6 302.1,112.0 304.5,112.0 306.8,111.8 309.1,111.2 311.3,110.8 313.5,111.1 315.7,110.6 317.9,110.3 319.9,108.8 321.5,106.9 323.1,105.0 325.4,104.2 327.7,103.1 330.1,102.4 332.8,101.2 335.1,99.4" fill="none" stroke="#a8a8a8" stroke-width="1.65" stroke-linejoin="round"/>
<polyline points="251.3,104.2 251.1,106.6 251.0,109.0 251.7,111.4 251.3,113.8" fill="none" stroke="#a8a8a8" stroke-width="1.65" stroke-linejoin="round"/>
<polyline points="244.5,116.0 246.7,115.1 249.1,114.6 251.3,113.8 254.2,114.5 257.1,114.5 260.0,114.7 261.8,116.2 263.6,117.6 265.4,119.1 267.0,120.8 269.2,122.3 271.6,123.3 274.0,124.3 276.4,124.7 278.6,125.6 281.0,126.1 283.7,124.5 286.3,122.6 289.1,122.0 291.6,120.8 295.1,119.1" fill="none" stroke="#a8a8a8" stroke-width="1.65" stroke-linejoin="round"/>
<polyline points="244.3,126.1 246.5,126.2 248.6,127.2 250.8,127.7 253.0,127.8 255.2,127.9 257.4,128.1 259.6,128.2 261.8,128.7 263.7,129.9 265.4,131.5 267.0,133.1 269.6,131.8 272.3,131.0 274.5,130.3 276.3,128.8 278.4,128.0 281.0,126.1" fill="none" stroke="#a8a8a8" stroke-width="1.65" stroke-linejoin="round"/>
<polyline points="286.3,115.5 288.7,116.3 291.0,117.5 294.0,118.0 297.0,118.5 299.5,117.3 302.0,116.0 304.4,114.9 307.0,114.5 309.5,114.0 312.0,113.5 314.1,112.8 316.0,111.4 317.9,110.3" fill="none" stroke="#a8a8a8" stroke-width="1.65" stroke-linejoin="round"/>
<polyline points="295.1,119.1 297.4,120.4 300.0,121.0 302.5,120.4 305.0,120.0 309.0,118.5 311.1,117.5 313.0,116.0" fill="none" stroke="#a8a8a8" stroke-width="1.65" stroke-linejoin="round"/>
<polyline points="300.0,121.0 302.5,124.5 305.1,124.6 307.6,124.2" fill="none" stroke="#a8a8a8" stroke-width="1.65" stroke-linejoin="round"/>
<polyline points="319.2,106.7 317.5,108.5 315.6,110.1 314.0,112.0 312.6,113.9 311.2,115.9 310.0,118.0 308.9,120.0 308.2,122.1 307.6,124.2 309.3,126.4 310.7,128.7 312.0,131.2 313.4,133.5 315.0,135.4 316.2,137.7 318.1,139.4 319.7,141.0 321.6,142.3 323.4,143.7 325.0,145.2 327.1,146.2 329.0,147.6 330.8,149.0 333.1,149.6 335.0,151.0 337.3,151.8 339.6,152.5 341.9,153.4 344.3,154.0 346.8,154.1 349.2,154.8 351.5,153.5 354.1,153.0 356.5,151.9 358.9,151.0 361.4,150.5 363.8,149.7 366.6,151.1 369.6,151.9 371.0,154.1 372.6,156.3 372.3,159.2 372.6,162.1 373.3,164.6 374.9,166.8 375.5,169.4 378.4,172.3 381.2,170.7 384.2,169.4 386.7,169.1 389.1,168.4 391.5,168.0 394.6,169.1 397.4,170.9 399.8,171.2 402.3,171.0 404.7,170.9" fill="none" stroke="#a8a8a8" stroke-width="1.65" stroke-linejoin="round"/>
<polyline points="292.4,126.5 290.0,130.0 288.3,131.5 286.0,132.1 284.2,133.5 281.3,133.9 278.4,134.7 276.4,135.8 274.1,136.2 272.0,137.0 269.4,138.4 266.7,139.4 265.8,141.6 265.5,144.0 265.8,146.4 266.7,148.7 266.1,151.4 265.1,154.0 264.4,156.7 263.8,158.9 263.2,161.0" fill="none" stroke="#a8a8a8" stroke-width="1.65" stroke-linejoin="round"/>
<polyline points="266.7,130.0 264.0,133.0 263.8,136.1 263.2,139.2 264.6,141.5 265.5,144.0" fill="none" stroke="#a8a8a8" stroke-width="1.65" stroke-linejoin="round"/>
<polyline points="307.6,124.2 306.6,126.2 306.4,128.5 305.7,130.6 305.0,132.7 304.0,134.7 303.0,137.0 302.2,139.3 301.7,141.7 300.2,144.5 299.4,147.6 298.1,149.5 297.0,151.4 295.9,153.4 293.8,155.6 292.0,158.0 290.5,160.0 289.0,162.0" fill="none" stroke="#a8a8a8" stroke-width="1.65" stroke-linejoin="round"/>
<polyline points="320.0,145.3 322.3,146.3 324.7,146.9 327.0,147.7 329.5,147.9 331.7,149.0 333.7,150.0 335.7,150.9 337.8,151.6 339.9,152.5 341.9,153.4" fill="none" stroke="#a8a8a8" stroke-width="1.65" stroke-linejoin="round"/>
<polyline points="320.0,149.0 322.3,149.9 324.5,151.0 326.6,152.2 328.8,153.4 331.0,153.6 333.2,154.3 335.4,154.6 337.5,155.4 339.7,155.9 341.9,156.3 343.4,159.2" fill="none" stroke="#a8a8a8" stroke-width="1.65" stroke-linejoin="round"/>
<polyline points="343.4,159.2 343.6,161.4 344.4,163.6 344.8,165.7 344.8,168.0" fill="none" stroke="#a8a8a8" stroke-width="1.65" stroke-linejoin="round"/>
<polyline points="352.1,169.4 353.9,166.7 355.0,163.6 354.1,161.5 353.6,159.2 351.4,158.1 349.0,157.5 346.2,158.3 343.4,159.2" fill="none" stroke="#a8a8a8" stroke-width="1.65" stroke-linejoin="round"/>
<polyline points="355.0,163.6 357.0,161.6 358.8,159.5 360.9,157.7 363.0,156.5 364.6,154.9 366.4,153.4 368.2,151.9" fill="none" stroke="#a8a8a8" stroke-width="1.65" stroke-linejoin="round"/>
<polyline points="371.1,176.7 371.1,179.0 370.3,181.1 370.1,183.3 369.6,185.5 370.3,188.1 371.5,190.4 372.6,192.8" fill="none" stroke="#a8a8a8" stroke-width="1.65" stroke-linejoin="round"/>
<polyline points="378.4,173.8 379.8,176.7 381.3,179.6 383.7,180.2 386.2,180.4 388.6,181.1 389.8,183.7 391.4,186.1 393.0,188.4 393.0,191.3" fill="none" stroke="#a8a8a8" stroke-width="1.65" stroke-linejoin="round"/>
<polyline points="390.0,173.8 391.8,175.8 393.2,178.0 394.5,180.4 395.9,182.6 397.6,184.6 398.6,187.1 400.6,188.9 401.8,191.3" fill="none" stroke="#a8a8a8" stroke-width="1.65" stroke-linejoin="round"/>
<polyline points="384.2,192.8 386.5,192.8 388.6,192.1 390.8,191.4 393.0,191.3 394.7,193.5 396.9,195.2 398.8,197.2" fill="none" stroke="#a8a8a8" stroke-width="1.65" stroke-linejoin="round"/>
<polyline points="375.5,169.4 373.8,171.7 372.8,174.4 371.1,176.7" fill="none" stroke="#a8a8a8" stroke-width="1.65" stroke-linejoin="round"/>
<polyline points="218.9,117.0 219.1,119.4 219.4,121.7 219.8,124.0 220.0,126.4 220.7,129.1 221.6,131.8 222.4,134.5 224.0,136.5 225.7,138.3 227.0,140.4 228.5,142.6 229.4,145.0 231.7,148.5" fill="none" stroke="#a8a8a8" stroke-width="1.65" stroke-linejoin="round"/>
<polyline points="213.0,116.0 216.0,116.1 218.9,117.0 221.4,117.6 224.0,118.0 226.7,118.2 229.4,118.2 231.7,117.5 234.0,117.5" fill="none" stroke="#a8a8a8" stroke-width="1.65" stroke-linejoin="round"/>
<polyline points="204.0,107.0 206.2,107.4 208.5,106.8 210.8,107.0 213.0,107.0 215.4,107.0 217.7,107.3 220.0,108.0 223.1,108.7 226.0,110.0 229.0,110.9" fill="none" stroke="#a8a8a8" stroke-width="1.65" stroke-linejoin="round"/>
<polyline points="205.0,113.0 207.7,112.9 210.3,112.9 213.0,112.5 215.5,112.6 218.0,113.0 220.9,114.3 224.0,115.0 226.4,115.8 229.0,116.0" fill="none" stroke="#a8a8a8" stroke-width="1.65" stroke-linejoin="round"/>
<polyline points="195.0,127.0 196.7,128.7 199.0,128.4 201.4,127.8 203.7,127.8 206.1,127.5 208.4,126.9 211.0,126.9 213.6,126.3 216.3,126.3 218.9,126.4" fill="none" stroke="#a8a8a8" stroke-width="1.65" stroke-linejoin="round"/>
<polyline points="208.4,126.9 208.5,130.2 208.4,133.4 206.5,135.6 204.9,138.0 202.6,139.8 200.0,141.0" fill="none" stroke="#a8a8a8" stroke-width="1.65" stroke-linejoin="round"/>
<polyline points="192.0,137.4 194.3,136.9 196.7,136.5 198.4,138.7 200.0,141.0 196.7,141.5 195.8,144.4 195.5,147.4 193.3,146.4 191.0,146.0" fill="none" stroke="#a8a8a8" stroke-width="1.65" stroke-linejoin="round"/>
<polyline points="196.7,141.5 199.0,142.1 201.4,142.7 203.6,143.5 206.0,143.9 208.3,144.4 210.7,144.3 213.0,144.8 215.4,145.0 217.7,146.0 220.0,146.9 222.2,148.0 224.7,148.5 227.0,149.3 229.4,149.7" fill="none" stroke="#a8a8a8" stroke-width="1.65" stroke-linejoin="round"/>
<polyline points="169.0,114.3 171.0,111.5 175.0,112.0 177.0,111.6" fill="none" stroke="#a8a8a8" stroke-width="1.65" stroke-linejoin="round"/>
<polyline points="214.5,185.0 217.0,184.6 219.5,184.1 222.0,183.5 224.5,183.2 227.0,182.7 229.5,182.6 232.0,182.0 234.3,181.4 236.6,181.2 239.0,181.2 241.3,180.8 243.0,179.3 245.2,178.4 247.0,177.0 248.2,174.9 249.9,173.2 251.0,171.0 253.0,167.5" fill="none" stroke="#a8a8a8" stroke-width="1.65" stroke-linejoin="round"/>
<polyline points="241.3,180.8 243.0,182.6 244.8,184.3 246.6,186.0 248.3,187.8" fill="none" stroke="#a8a8a8" stroke-width="1.65" stroke-linejoin="round"/>
<polyline points="241.3,163.9 242.9,165.5 244.0,167.5 247.0,166.9 250.0,166.5" fill="none" stroke="#a8a8a8" stroke-width="1.65" stroke-linejoin="round"/>
<polyline points="164.1,142.0 164.2,144.7 163.9,147.3 163.8,150.0 163.6,152.3 164.0,154.7 163.5,157.0 164.0,159.3 164.1,161.7 163.8,164.0 163.9,166.3 163.6,168.7 163.4,171.0 163.4,173.3 163.6,175.7 163.8,178.0" fill="none" stroke="#a8a8a8" stroke-width="1.65" stroke-linejoin="round"/>
<polyline points="164.5,170.6 166.7,170.2 168.9,170.8 171.1,170.6 173.3,170.9 175.5,171.0 177.7,170.7 179.9,170.8 182.2,170.6 184.4,170.6 186.6,170.9 188.8,170.8 191.0,170.5 193.2,170.9 195.4,170.6" fill="none" stroke="#a8a8a8" stroke-width="1.65" stroke-linejoin="round"/>
<polyline points="196.7,183.9 197.0,186.5 198.0,189.0 198.2,191.7 200.6,192.3 202.9,193.2 205.5,193.2 208.0,192.8 210.6,193.2" fill="none" stroke="#a8a8a8" stroke-width="1.65" stroke-linejoin="round"/>
<polyline points="198.2,191.7 197.5,194.1 197.1,196.7 196.0,199.0 197.8,201.6 200.0,204.0" fill="none" stroke="#a8a8a8" stroke-width="1.65" stroke-linejoin="round"/>
<polyline points="115.9,129.4 115.4,131.8 114.8,134.2 114.5,136.7 116.7,138.9 118.8,141.1 119.6,144.0 120.3,146.9 120.3,149.2 119.8,151.6 120.1,153.9 120.1,156.3 119.6,158.6 121.5,160.4 123.0,162.5 124.7,164.4 127.5,166.1 130.5,167.3 133.0,167.0 135.5,166.3 138.1,166.4 140.5,167.1 142.9,168.0 145.1,169.1 147.4,170.0 149.6,171.4 152.0,172.0 154.0,173.0 155.8,174.2 157.8,175.2 160.0,175.7 162.0,176.7 163.8,178.0" fill="none" stroke="#a8a8a8" stroke-width="1.65" stroke-linejoin="round"/>
<polyline points="124.7,165.1 122.5,166.6 120.6,168.4 118.8,170.3" fill="none" stroke="#a8a8a8" stroke-width="1.65" stroke-linejoin="round"/>
<polyline points="87.4,132.3 87.8,134.5 88.2,136.7 88.2,139.0 88.9,141.1 86.6,141.9 84.4,142.8 82.3,144.0 79.5,145.7 76.5,146.9 74.7,148.2 72.8,149.4 71.0,150.7 69.2,152.0 68.5,155.7 65.8,156.2 63.1,156.2 60.4,156.4 60.4,159.3 59.0,161.9 57.5,164.4 56.1,168.1 55.8,170.3 56.1,172.6" fill="none" stroke="#a8a8a8" stroke-width="1.65" stroke-linejoin="round"/>
<polyline points="68.5,155.7 70.5,157.6 72.7,159.3 75.0,160.8 76.8,162.3 79.2,162.8 81.2,164.0 83.1,165.4 84.9,167.0 86.9,168.1 88.8,169.4 90.8,170.6 93.0,171.5 95.0,172.7 97.0,173.9" fill="none" stroke="#a8a8a8" stroke-width="1.65" stroke-linejoin="round"/>
<polyline points="75.0,161.5 75.5,164.0 75.2,166.5 75.3,169.0 76.0,171.5 75.8,174.0" fill="none" stroke="#a8a8a8" stroke-width="1.65" stroke-linejoin="round"/>
<polyline points="88.4,109.9 90.6,110.3 92.8,110.4 95.0,111.0 97.1,111.9 99.3,112.2 101.5,112.8" fill="none" stroke="#a8a8a8" stroke-width="1.65" stroke-linejoin="round"/>
<polyline points="69.0,109.5 71.5,112.0 71.3,114.5 71.0,117.0 72.5,121.0 71.5,125.0 72.3,127.7" fill="none" stroke="#a8a8a8" stroke-width="1.65" stroke-linejoin="round"/>
<polyline points="104.0,85.5 106.2,86.5 108.0,88.0 112.0,89.0 113.0,90.0 114.5,94.0 114.0,97.5 116.0,98.5 118.0,101.0 116.0,104.0 117.5,105.7" fill="none" stroke="#a8a8a8" stroke-width="1.65" stroke-linejoin="round"/>
<polyline points="110.0,84.0 111.0,88.0" fill="none" stroke="#a8a8a8" stroke-width="1.65" stroke-linejoin="round"/>
<polyline points="119.0,79.0 122.0,79.5" fill="none" stroke="#a8a8a8" stroke-width="1.65" stroke-linejoin="round"/>
<polyline points="134.0,79.5 134.1,82.3 135.0,85.0 135.6,87.5 136.0,90.0 133.1,91.3 130.0,92.0 128.0,94.0 130.3,95.6 133.0,96.5 129.0,98.0 126.6,97.9 124.3,98.2 122.0,98.5 119.0,98.2 116.0,98.5" fill="none" stroke="#a8a8a8" stroke-width="1.65" stroke-linejoin="round"/>
<polyline points="118.0,101.0 122.0,101.5 125.0,100.0 127.5,100.6 130.0,100.5 134.0,102.0 133.5,104.6" fill="none" stroke="#a8a8a8" stroke-width="1.65" stroke-linejoin="round"/>
<polyline points="128.0,94.0 131.0,94.3 134.0,95.0 136.6,94.8 139.0,94.0 141.4,92.4 144.0,91.0 141.4,90.4 138.7,90.4 136.0,90.0" fill="none" stroke="#a8a8a8" stroke-width="1.65" stroke-linejoin="round"/>
<polyline points="144.0,91.0 147.0,91.3 150.0,91.5 153.0,91.8 156.0,92.0" fill="none" stroke="#a8a8a8" stroke-width="1.65" stroke-linejoin="round"/>
<polyline points="139.0,94.0 142.0,95.0 145.0,96.0 147.6,95.8 150.0,95.0 153.0,94.1 156.0,93.5" fill="none" stroke="#a8a8a8" stroke-width="1.65" stroke-linejoin="round"/>
<polyline points="139.0,94.0 138.0,97.0 137.0,100.0 140.0,101.1 143.0,102.0 146.0,102.3 149.0,103.0 151.4,102.1 154.0,102.0 154.9,99.5 156.0,97.0 156.0,93.5" fill="none" stroke="#a8a8a8" stroke-width="1.65" stroke-linejoin="round"/>
<polyline points="156.0,92.0 159.0,90.0 160.1,88.1 161.0,86.0 160.9,83.4 160.0,81.0 158.0,78.5 155.0,77.9 152.0,78.0" fill="none" stroke="#a8a8a8" stroke-width="1.65" stroke-linejoin="round"/>
<polyline points="152.0,74.0 155.0,73.7 158.0,73.5 161.0,73.6 164.0,73.5" fill="none" stroke="#a8a8a8" stroke-width="1.65" stroke-linejoin="round"/>
<polyline points="156.0,69.0 159.0,68.4 162.0,68.5 164.5,68.1 167.0,68.0" fill="none" stroke="#a8a8a8" stroke-width="1.65" stroke-linejoin="round"/>
<polyline points="168.0,63.8 167.0,68.0 168.0,70.5 169.0,73.0" fill="none" stroke="#a8a8a8" stroke-width="1.65" stroke-linejoin="round"/>
<polyline points="164.0,73.5 163.3,76.4 162.0,79.0 158.0,78.5" fill="none" stroke="#a8a8a8" stroke-width="1.65" stroke-linejoin="round"/>
<polyline points="169.0,73.0 172.0,74.0 175.0,75.0 176.5,77.5 178.0,80.0 176.9,82.5 176.0,85.0 173.3,85.7 170.6,86.0 168.0,87.0 165.6,86.8 163.3,86.5 161.0,86.0" fill="none" stroke="#a8a8a8" stroke-width="1.65" stroke-linejoin="round"/>
<polyline points="176.0,85.0 179.1,85.2 182.0,86.0 184.1,86.9 186.0,88.0 187.7,90.3 190.0,92.0 191.5,94.0 193.0,96.0 191.9,98.0 191.0,100.0 189.6,102.0" fill="none" stroke="#a8a8a8" stroke-width="1.65" stroke-linejoin="round"/>
<polyline points="156.0,93.5 160.0,95.0 163.0,94.6 166.0,95.0 167.8,96.3 170.0,97.0 170.7,99.1 172.0,101.0 175.0,104.0 175.6,107.3" fill="none" stroke="#a8a8a8" stroke-width="1.65" stroke-linejoin="round"/>
<polyline points="154.0,102.0 155.7,103.8 157.0,106.0 159.5,106.6 162.0,107.0 165.0,106.7 168.0,106.5 171.0,106.9 174.0,107.5" fill="none" stroke="#a8a8a8" stroke-width="1.65" stroke-linejoin="round"/>
<polyline points="143.0,102.0 145.2,103.8 147.0,106.0 148.3,107.9 149.0,110.0" fill="none" stroke="#a8a8a8" stroke-width="1.65" stroke-linejoin="round"/>
<polyline points="149.0,103.0 149.8,105.6 151.0,108.0 150.0,112.0" fill="none" stroke="#a8a8a8" stroke-width="1.65" stroke-linejoin="round"/>
<polyline points="150.0,112.0 151.0,116.0 152.2,117.9 153.0,120.0" fill="none" stroke="#a8a8a8" stroke-width="1.65" stroke-linejoin="round"/>
<polyline points="157.0,106.0 156.0,110.0 154.8,111.9 154.0,114.0 156.9,115.3 160.0,116.0 163.0,116.1 166.0,116.0 169.0,114.3" fill="none" stroke="#a8a8a8" stroke-width="1.65" stroke-linejoin="round"/>
<polyline points="151.0,116.0 154.0,115.7 157.0,115.0 158.0,117.0" fill="none" stroke="#a8a8a8" stroke-width="1.65" stroke-linejoin="round"/>
<polyline points="121.0,66.5 121.9,64.3 122.8,62.1 124.0,60.0 125.2,58.1 126.2,56.1 127.3,54.2 128.0,52.0 130.0,50.2 132.0,48.5 134.2,47.0 136.0,45.0 138.0,43.4 140.1,41.8 142.0,40.0 143.8,38.7 146.1,38.3 148.0,37.1 150.0,36.0 152.9,34.9 156.0,34.5" fill="none" stroke="#a8a8a8" stroke-width="1.65" stroke-linejoin="round"/>
<polyline points="163.6,46.3 162.3,44.3 161.3,42.0 160.0,40.0 158.5,38.0 156.8,36.2 155.0,34.5 157.5,34.1 160.0,33.6 162.5,33.7 165.0,33.0 167.3,32.9 169.7,33.2 172.0,33.0" fill="none" stroke="#a8a8a8" stroke-width="1.65" stroke-linejoin="round"/>
<polyline points="177.0,60.5 177.7,57.8 178.0,55.0 177.3,52.7 176.3,50.4 176.0,48.0 174.6,46.1 173.2,44.1 172.0,42.0 171.3,39.5 171.0,37.0 172.8,34.7 174.0,32.0" fill="none" stroke="#a8a8a8" stroke-width="1.65" stroke-linejoin="round"/>
<circle cx="123.1" cy="60.0" r="4.5" fill="#D08CBE" stroke="#000" stroke-width="1"/>
<circle cx="156.0" cy="59.6" r="4.5" fill="#E0A08C" stroke="#000" stroke-width="1"/>
<circle cx="159.0" cy="72.8" r="4.5" fill="#E8B478" stroke="#000" stroke-width="1"/>
<circle cx="119.0" cy="88.5" r="4.5" fill="#D890AC" stroke="#000" stroke-width="1"/>
<circle cx="134.0" cy="87.7" r="4.5" fill="#E8B478" stroke="#000" stroke-width="1"/>
<circle cx="136.7" cy="94.1" r="4.5" fill="#F0C864" stroke="#000" stroke-width="1"/>
<circle cx="148.5" cy="92.4" r="4.5" fill="#D08CBE" stroke="#000" stroke-width="1"/>
<circle cx="166.0" cy="101.7" r="4.5" fill="#E4A090" stroke="#000" stroke-width="1"/>
<circle cx="142.0" cy="110.1" r="4.5" fill="#D890AC" stroke="#000" stroke-width="1"/>
<circle cx="147.6" cy="108.3" r="4.5" fill="#C882C8" stroke="#000" stroke-width="1"/>
<circle cx="159.5" cy="111.3" r="4.5" fill="#B464D2" stroke="#000" stroke-width="1"/>
<circle cx="153.7" cy="118.9" r="4.5" fill="#D088B8" stroke="#000" stroke-width="1"/>
<circle cx="139.7" cy="121.0" r="4.5" fill="#F8E040" stroke="#000" stroke-width="1"/>
<circle cx="68.4" cy="117.1" r="4.5" fill="#E8AA7C" stroke="#000" stroke-width="1"/>
<circle cx="191.9" cy="88.0" r="4.5" fill="#D4909C" stroke="#000" stroke-width="1"/>
<circle cx="190.7" cy="80.7" r="4.5" fill="#B070D2" stroke="#000" stroke-width="1"/>
<circle cx="229.6" cy="80.7" r="4.5" fill="#B878C8" stroke="#000" stroke-width="1"/>
<circle cx="273.4" cy="71.9" r="4.5" fill="#C080C8" stroke="#000" stroke-width="1"/>
<circle cx="276.5" cy="71.7" r="4.5" fill="#B878D0" stroke="#000" stroke-width="1"/>
<circle cx="218.6" cy="44.7" r="4.5" fill="#E8B080" stroke="#000" stroke-width="1"/>
<circle cx="205.9" cy="108.7" r="4.5" fill="#6030F0" stroke="#000" stroke-width="1"/>
<circle cx="212.4" cy="115.7" r="4.5" fill="#9050E0" stroke="#000" stroke-width="1"/>
<circle cx="191.9" cy="145.0" r="4.5" fill="#D088B8" stroke="#000" stroke-width="1"/>
<circle cx="194.5" cy="136.6" r="4.5" fill="#9050E0" stroke="#000" stroke-width="1"/>
<circle cx="201.2" cy="134.0" r="4.5" fill="#D090B0" stroke="#000" stroke-width="1"/>
<circle cx="227.8" cy="132.8" r="4.5" fill="#6030F0" stroke="#000" stroke-width="1"/>
<circle cx="230.4" cy="134.2" r="4.5" fill="#6030F0" stroke="#000" stroke-width="1"/>
<circle cx="236.2" cy="128.4" r="4.5" fill="#6030F0" stroke="#000" stroke-width="1"/>
<circle cx="239.2" cy="131.9" r="4.5" fill="#6030F0" stroke="#000" stroke-width="1"/>
<circle cx="232.5" cy="131.4" r="4.5" fill="#9050E0" stroke="#000" stroke-width="1"/>
<circle cx="255" cy="146.8" r="4.5" fill="#6030F0" stroke="#000" stroke-width="1"/>
<circle cx="255" cy="153.4" r="4.5" fill="#6030F0" stroke="#000" stroke-width="1"/>
<circle cx="220.3" cy="162" r="4.5" fill="#D8A0A0" stroke="#000" stroke-width="1"/>
<circle cx="342.5" cy="74.4" r="4.5" fill="#3A10FF" stroke="#000" stroke-width="1"/>
<circle cx="347.9" cy="79.1" r="4.5" fill="#6A30F0" stroke="#000" stroke-width="1"/>
<circle cx="342.5" cy="83.7" r="4.5" fill="#A060D0" stroke="#000" stroke-width="1"/>
<circle cx="327.9" cy="82.9" r="4.5" fill="#9050E0" stroke="#000" stroke-width="1"/>
<circle cx="306.0" cy="89.5" r="4.5" fill="#B070D0" stroke="#000" stroke-width="1"/>
<circle cx="319.9" cy="94.7" r="4.5" fill="#B070D0" stroke="#000" stroke-width="1"/>
<circle cx="292.4" cy="101.9" r="4.5" fill="#C080C8" stroke="#000" stroke-width="1"/>
<circle cx="308.1" cy="101.4" r="4.5" fill="#B878C8" stroke="#000" stroke-width="1"/>
<circle cx="331.1" cy="101.4" r="4.5" fill="#6030F0" stroke="#000" stroke-width="1"/>
<circle cx="343.2" cy="102.2" r="4.5" fill="#2000FF" stroke="#000" stroke-width="1"/>
<circle cx="350.1" cy="107.4" r="4.5" fill="#6030F0" stroke="#000" stroke-width="1"/>
<circle cx="358.4" cy="109.6" r="4.5" fill="#6030F0" stroke="#000" stroke-width="1"/>
<circle cx="342" cy="110.4" r="4.5" fill="#5020F0" stroke="#000" stroke-width="1"/>
<circle cx="337.3" cy="110.8" r="4.5" fill="#6030F0" stroke="#000" stroke-width="1"/>
<circle cx="316.6" cy="114.5" r="4.5" fill="#3a2080" stroke="#000" stroke-width="1"/>
<circle cx="316.2" cy="113.7" r="4.5" fill="#6030F0" stroke="#000" stroke-width="1"/>
<circle cx="305.6" cy="116.5" r="4.5" fill="#9050E0" stroke="#000" stroke-width="1"/>
<circle cx="297.1" cy="122.4" r="4.5" fill="#8040E0" stroke="#000" stroke-width="1"/>
<circle cx="297.9" cy="125.5" r="4.5" fill="#6030F0" stroke="#000" stroke-width="1"/>
<circle cx="302.6" cy="125.5" r="4.5" fill="#5020F0" stroke="#000" stroke-width="1"/>
<circle cx="300.2" cy="122.7" r="4.5" fill="#7040F0" stroke="#000" stroke-width="1"/>
<circle cx="296.4" cy="131.7" r="4.5" fill="#C080C0" stroke="#000" stroke-width="1"/>
<circle cx="311.1" cy="135.6" r="4.5" fill="#D090A0" stroke="#000" stroke-width="1"/>
<circle cx="306.4" cy="131.7" r="4.5" fill="#9050E0" stroke="#000" stroke-width="1"/>
<circle cx="301" cy="137.9" r="4.5" fill="#B070D0" stroke="#000" stroke-width="1"/>
<circle cx="290.9" cy="141" r="4.5" fill="#B070D0" stroke="#000" stroke-width="1"/>
<circle cx="294" cy="149.5" r="4.5" fill="#E0A080" stroke="#000" stroke-width="1"/>
<circle cx="289.8" cy="148" r="4.5" fill="#D090B0" stroke="#000" stroke-width="1"/>
<circle cx="325.8" cy="139.8" r="4.5" fill="#F0D060" stroke="#000" stroke-width="1"/>
<circle cx="351.4" cy="148" r="4.5" fill="#F8F020" stroke="#000" stroke-width="1"/>
<circle cx="300.2" cy="158.4" r="4.5" fill="#F0D060" stroke="#000" stroke-width="1"/>
<circle cx="297.6" cy="170.5" r="4.5" fill="#E8B070" stroke="#000" stroke-width="1"/>
<circle cx="304.4" cy="181.3" r="4.5" fill="#F8F020" stroke="#000" stroke-width="1"/>
<circle cx="308.8" cy="182.6" r="4.5" fill="#F0D060" stroke="#000" stroke-width="1"/>
<circle cx="372" cy="94" r="4.5" fill="#C080C8" stroke="#000" stroke-width="1"/>
<circle cx="385" cy="101.2" r="4.5" fill="#D090A8" stroke="#000" stroke-width="1"/>
<circle cx="410.8" cy="108.7" r="4.5" fill="#C080C8" stroke="#000" stroke-width="1"/>
<circle cx="455" cy="68.9" r="4.5" fill="#C080C0" stroke="#000" stroke-width="1"/>
<circle cx="440.9" cy="95.2" r="4.5" fill="#9050E0" stroke="#000" stroke-width="1"/>
<circle cx="438.8" cy="87.3" r="4.5" fill="#9050E0" stroke="#000" stroke-width="1"/>
<circle cx="436.7" cy="95.2" r="4.5" fill="#D090B8" stroke="#000" stroke-width="1"/>
<circle cx="445.8" cy="90.6" r="4.5" fill="#B878D0" stroke="#000" stroke-width="1"/>
<circle cx="457.8" cy="98.5" r="4.5" fill="#6030F0" stroke="#000" stroke-width="1"/>
<circle cx="440.2" cy="114.8" r="4.5" fill="#9050E0" stroke="#000" stroke-width="1"/>
<circle cx="378.4" cy="128" r="4.5" fill="#C080C8" stroke="#000" stroke-width="1"/>
<circle cx="375.4" cy="128" r="4.5" fill="#D090B0" stroke="#000" stroke-width="1"/>
<circle cx="409.4" cy="130.6" r="4.5" fill="#9050E0" stroke="#000" stroke-width="1"/>
<circle cx="412" cy="128.5" r="4.5" fill="#D89898" stroke="#000" stroke-width="1"/>
<circle cx="376.6" cy="144.1" r="4.5" fill="#D090B0" stroke="#000" stroke-width="1"/>
<circle cx="384.6" cy="145.3" r="4.5" fill="#C080C8" stroke="#000" stroke-width="1"/>
<circle cx="418.8" cy="25.8" r="4.5" fill="#C888B8" stroke="#000" stroke-width="1"/>
<circle cx="473.6" cy="32.3" r="4.5" fill="#6030F0" stroke="#000" stroke-width="1"/>
<circle cx="585.6" cy="42.2" r="4.5" fill="#C080C0" stroke="#000" stroke-width="1"/>
<text x="17.4" y="53.1" font-size="46">A</text>
<text x="-3.2" y="250.4" font-size="45.5">B</text>
<text x="303.1" y="269" font-size="44">C</text>
<text x="544.2" y="113.2" font-size="12.4">Heterozygosity</text>
<rect x="542.1" y="120.1" width="22.8" height="90.6" fill="url(#hg)"/>
<line x1="542.1" y1="138.2" x2="546.5" y2="138.2" stroke="#fff" stroke-opacity="0.75" stroke-width="0.9"/>
<line x1="560.4" y1="138.2" x2="564.9" y2="138.2" stroke="#fff" stroke-opacity="0.75" stroke-width="0.9"/>
<line x1="542.1" y1="161.3" x2="546.5" y2="161.3" stroke="#fff" stroke-opacity="0.75" stroke-width="0.9"/>
<line x1="560.4" y1="161.3" x2="564.9" y2="161.3" stroke="#fff" stroke-opacity="0.75" stroke-width="0.9"/>
<line x1="542.1" y1="184.5" x2="546.5" y2="184.5" stroke="#fff" stroke-opacity="0.75" stroke-width="0.9"/>
<line x1="560.4" y1="184.5" x2="564.9" y2="184.5" stroke="#fff" stroke-opacity="0.75" stroke-width="0.9"/>
<line x1="542.1" y1="208.4" x2="546.5" y2="208.4" stroke="#fff" stroke-opacity="0.75" stroke-width="0.9"/>
<line x1="560.4" y1="208.4" x2="564.9" y2="208.4" stroke="#fff" stroke-opacity="0.75" stroke-width="0.9"/>
<text x="567.2" y="142.6" font-size="12.3">0.0018</text>
<text x="567.2" y="165.7" font-size="12.3">0.0015</text>
<text x="567.2" y="189.1" font-size="12.3">0.0012</text>
<text x="567.2" y="210.5" font-size="12.3">0.0009</text>
<rect x="103.40" y="210.30" width="45.10" height="6.69" fill="#7570b3" stroke="#000" stroke-width="0.9"/>
<rect x="148.50" y="210.30" width="6.00" height="6.69" fill="#d95f02" stroke="#000" stroke-width="0.9"/>
<text x="92.1" y="214.65" text-anchor="end" font-size="7.75" stroke="#000" stroke-width="0.12">China-Xinjiang1</text>
<line x1="92.7" y1="213.65" x2="95.8" y2="213.65" stroke="#000" stroke-width="0.8"/>
<rect x="103.40" y="216.99" width="42.90" height="6.69" fill="#7570b3" stroke="#000" stroke-width="0.9"/>
<rect x="146.30" y="216.99" width="7.30" height="6.69" fill="#d95f02" stroke="#000" stroke-width="0.9"/>
<rect x="153.60" y="216.99" width="1.70" height="6.69" fill="#e6ab02" stroke="#000" stroke-width="0.9"/>
<text x="92.1" y="221.34" text-anchor="end" font-size="7.75" stroke="#000" stroke-width="0.12">Russia-Sochi</text>
<line x1="92.7" y1="220.34" x2="95.8" y2="220.34" stroke="#000" stroke-width="0.8"/>
<rect x="103.40" y="223.68" width="51.10" height="6.69" fill="#7570b3" stroke="#000" stroke-width="0.9"/>
<rect x="154.50" y="223.68" width="5.80" height="6.69" fill="#d95f02" stroke="#000" stroke-width="0.9"/>
<rect x="160.30" y="223.68" width="1.80" height="6.69" fill="#e6ab02" stroke="#000" stroke-width="0.9"/>
<text x="92.1" y="228.03" text-anchor="end" font-size="7.75" stroke="#000" stroke-width="0.12">Russia-Altai3</text>
<line x1="92.7" y1="227.03" x2="95.8" y2="227.03" stroke="#000" stroke-width="0.8"/>
<rect x="103.40" y="230.37" width="51.80" height="6.69" fill="#7570b3" stroke="#000" stroke-width="0.9"/>
<rect x="155.20" y="230.37" width="5.30" height="6.69" fill="#d95f02" stroke="#000" stroke-width="0.9"/>
<rect x="160.50" y="230.37" width="1.40" height="6.69" fill="#e6ab02" stroke="#000" stroke-width="0.9"/>
<text x="92.1" y="234.72" text-anchor="end" font-size="7.75" stroke="#000" stroke-width="0.12">Iran-Tehran3</text>
<line x1="92.7" y1="233.72" x2="95.8" y2="233.72" stroke="#000" stroke-width="0.8"/>
<rect x="103.40" y="237.06" width="49.90" height="6.69" fill="#7570b3" stroke="#000" stroke-width="0.9"/>
<rect x="153.30" y="237.06" width="8.00" height="6.69" fill="#d95f02" stroke="#000" stroke-width="0.9"/>
<rect x="161.30" y="237.06" width="1.80" height="6.69" fill="#e6ab02" stroke="#000" stroke-width="0.9"/>
<text x="92.1" y="241.41" text-anchor="end" font-size="7.75" stroke="#000" stroke-width="0.12">China-Xinjiang3</text>
<line x1="92.7" y1="240.41" x2="95.8" y2="240.41" stroke="#000" stroke-width="0.8"/>
<rect x="103.40" y="243.75" width="49.20" height="6.69" fill="#7570b3" stroke="#000" stroke-width="0.9"/>
<rect x="152.60" y="243.75" width="8.70" height="6.69" fill="#d95f02" stroke="#000" stroke-width="0.9"/>
<rect x="161.30" y="243.75" width="1.80" height="6.69" fill="#e6ab02" stroke="#000" stroke-width="0.9"/>
<text x="92.1" y="248.09" text-anchor="end" font-size="7.75" stroke="#000" stroke-width="0.12">China-Xinjiang2</text>
<line x1="92.7" y1="247.09" x2="95.8" y2="247.09" stroke="#000" stroke-width="0.8"/>
<rect x="103.40" y="250.44" width="49.90" height="6.69" fill="#7570b3" stroke="#000" stroke-width="0.9"/>
<rect x="153.30" y="250.44" width="8.20" height="6.69" fill="#d95f02" stroke="#000" stroke-width="0.9"/>
<rect x="161.50" y="250.44" width="1.80" height="6.69" fill="#e6ab02" stroke="#000" stroke-width="0.9"/>
<text x="92.1" y="254.78" text-anchor="end" font-size="7.75" stroke="#000" stroke-width="0.12">Tajikistan2</text>
<line x1="92.7" y1="253.78" x2="95.8" y2="253.78" stroke="#000" stroke-width="0.8"/>
<rect x="103.40" y="257.13" width="49.90" height="6.69" fill="#7570b3" stroke="#000" stroke-width="0.9"/>
<rect x="153.30" y="257.13" width="8.00" height="6.69" fill="#d95f02" stroke="#000" stroke-width="0.9"/>
<rect x="161.30" y="257.13" width="2.70" height="6.69" fill="#e6ab02" stroke="#000" stroke-width="0.9"/>
<rect x="164.00" y="257.13" width="1.40" height="6.69" fill="#ffff00" stroke="#000" stroke-width="0.9"/>
<text x="92.1" y="261.48" text-anchor="end" font-size="7.75" stroke="#000" stroke-width="0.12">Russia-Altai2</text>
<line x1="92.7" y1="260.48" x2="95.8" y2="260.48" stroke="#000" stroke-width="0.8"/>
<rect x="103.40" y="263.82" width="53.30" height="6.69" fill="#7570b3" stroke="#000" stroke-width="0.9"/>
<rect x="156.70" y="263.82" width="6.60" height="6.69" fill="#d95f02" stroke="#000" stroke-width="0.9"/>
<rect x="163.30" y="263.82" width="1.70" height="6.69" fill="#e6ab02" stroke="#000" stroke-width="0.9"/>
<text x="92.1" y="268.17" text-anchor="end" font-size="7.75" stroke="#000" stroke-width="0.12">Iran-Zanjan</text>
<line x1="92.7" y1="267.17" x2="95.8" y2="267.17" stroke="#000" stroke-width="0.8"/>
<rect x="103.40" y="270.51" width="51.90" height="6.69" fill="#7570b3" stroke="#000" stroke-width="0.9"/>
<rect x="155.30" y="270.51" width="8.00" height="6.69" fill="#d95f02" stroke="#000" stroke-width="0.9"/>
<rect x="163.30" y="270.51" width="1.70" height="6.69" fill="#e6ab02" stroke="#000" stroke-width="0.9"/>
<text x="92.1" y="274.86" text-anchor="end" font-size="7.75" stroke="#000" stroke-width="0.12">Russia-Yakutia</text>
<line x1="92.7" y1="273.86" x2="95.8" y2="273.86" stroke="#000" stroke-width="0.8"/>
<rect x="103.40" y="277.20" width="52.60" height="6.69" fill="#7570b3" stroke="#000" stroke-width="0.9"/>
<rect x="156.00" y="277.20" width="8.20" height="6.69" fill="#d95f02" stroke="#000" stroke-width="0.9"/>
<rect x="164.20" y="277.20" width="1.50" height="6.69" fill="#e6ab02" stroke="#000" stroke-width="0.9"/>
<text x="92.1" y="281.55" text-anchor="end" font-size="7.75" stroke="#000" stroke-width="0.12">China-Heilongjiang</text>
<line x1="92.7" y1="280.55" x2="95.8" y2="280.55" stroke="#000" stroke-width="0.8"/>
<rect x="103.40" y="283.89" width="49.90" height="6.69" fill="#7570b3" stroke="#000" stroke-width="0.9"/>
<rect x="153.30" y="283.89" width="9.00" height="6.69" fill="#d95f02" stroke="#000" stroke-width="0.9"/>
<rect x="162.30" y="283.89" width="2.70" height="6.69" fill="#e6ab02" stroke="#000" stroke-width="0.9"/>
<text x="92.1" y="288.24" text-anchor="end" font-size="7.75" stroke="#000" stroke-width="0.12">Tajikistan4</text>
<line x1="92.7" y1="287.24" x2="95.8" y2="287.24" stroke="#000" stroke-width="0.8"/>
<rect x="103.40" y="290.58" width="52.60" height="6.69" fill="#7570b3" stroke="#000" stroke-width="0.9"/>
<rect x="156.00" y="290.58" width="8.20" height="6.69" fill="#d95f02" stroke="#000" stroke-width="0.9"/>
<rect x="164.20" y="290.58" width="1.80" height="6.69" fill="#e6ab02" stroke="#000" stroke-width="0.9"/>
<text x="92.1" y="294.93" text-anchor="end" font-size="7.75" stroke="#000" stroke-width="0.12">Iran-Hajiabad</text>
<line x1="92.7" y1="293.93" x2="95.8" y2="293.93" stroke="#000" stroke-width="0.8"/>
<rect x="103.40" y="297.27" width="51.80" height="6.69" fill="#7570b3" stroke="#000" stroke-width="0.9"/>
<rect x="155.20" y="297.27" width="8.20" height="6.69" fill="#d95f02" stroke="#000" stroke-width="0.9"/>
<rect x="163.40" y="297.27" width="2.80" height="6.69" fill="#e6ab02" stroke="#000" stroke-width="0.9"/>
<text x="92.1" y="301.62" text-anchor="end" font-size="7.75" stroke="#000" stroke-width="0.12">Iran-Tehran2</text>
<line x1="92.7" y1="300.62" x2="95.8" y2="300.62" stroke="#000" stroke-width="0.8"/>
<rect x="103.40" y="303.96" width="48.90" height="6.69" fill="#7570b3" stroke="#000" stroke-width="0.9"/>
<rect x="152.30" y="303.96" width="9.20" height="6.69" fill="#d95f02" stroke="#000" stroke-width="0.9"/>
<rect x="161.50" y="303.96" width="5.60" height="6.69" fill="#e6ab02" stroke="#000" stroke-width="0.9"/>
<text x="92.1" y="308.31" text-anchor="end" font-size="7.75" stroke="#000" stroke-width="0.12">Kyrgyzstan2</text>
<line x1="92.7" y1="307.31" x2="95.8" y2="307.31" stroke="#000" stroke-width="0.8"/>
<rect x="103.40" y="310.65" width="55.00" height="6.69" fill="#7570b3" stroke="#000" stroke-width="0.9"/>
<rect x="158.40" y="310.65" width="8.00" height="6.69" fill="#d95f02" stroke="#000" stroke-width="0.9"/>
<rect x="166.40" y="310.65" width="1.70" height="6.69" fill="#e6ab02" stroke="#000" stroke-width="0.9"/>
<text x="92.1" y="315.00" text-anchor="end" font-size="7.75" stroke="#000" stroke-width="0.12">Iran-Tehran1</text>
<line x1="92.7" y1="314.00" x2="95.8" y2="314.00" stroke="#000" stroke-width="0.8"/>
<rect x="103.40" y="317.34" width="50.20" height="6.69" fill="#7570b3" stroke="#000" stroke-width="0.9"/>
<rect x="153.60" y="317.34" width="11.80" height="6.69" fill="#d95f02" stroke="#000" stroke-width="0.9"/>
<rect x="165.40" y="317.34" width="3.70" height="6.69" fill="#e6ab02" stroke="#000" stroke-width="0.9"/>
<text x="92.1" y="321.69" text-anchor="end" font-size="7.75" stroke="#000" stroke-width="0.12">Tajikistan1</text>
<line x1="92.7" y1="320.69" x2="95.8" y2="320.69" stroke="#000" stroke-width="0.8"/>
<rect x="103.40" y="324.03" width="53.30" height="6.69" fill="#7570b3" stroke="#000" stroke-width="0.9"/>
<rect x="156.70" y="324.03" width="10.40" height="6.69" fill="#d95f02" stroke="#000" stroke-width="0.9"/>
<rect x="167.10" y="324.03" width="2.00" height="6.69" fill="#e6ab02" stroke="#000" stroke-width="0.9"/>
<text x="92.1" y="328.38" text-anchor="end" font-size="7.75" stroke="#000" stroke-width="0.12">Iran-Hamadan</text>
<line x1="92.7" y1="327.38" x2="95.8" y2="327.38" stroke="#000" stroke-width="0.8"/>
<rect x="103.40" y="330.72" width="55.00" height="6.69" fill="#7570b3" stroke="#000" stroke-width="0.9"/>
<rect x="158.40" y="330.72" width="10.70" height="6.69" fill="#d95f02" stroke="#000" stroke-width="0.9"/>
<rect x="169.10" y="330.72" width="1.70" height="6.69" fill="#e6ab02" stroke="#000" stroke-width="0.9"/>
<text x="92.1" y="335.07" text-anchor="end" font-size="7.75" stroke="#000" stroke-width="0.12">Russia-Altai1</text>
<line x1="92.7" y1="334.07" x2="95.8" y2="334.07" stroke="#000" stroke-width="0.8"/>
<rect x="103.40" y="337.41" width="56.90" height="6.69" fill="#7570b3" stroke="#000" stroke-width="0.9"/>
<rect x="160.30" y="337.41" width="9.70" height="6.69" fill="#d95f02" stroke="#000" stroke-width="0.9"/>
<rect x="170.00" y="337.41" width="2.00" height="6.69" fill="#e6ab02" stroke="#000" stroke-width="0.9"/>
<text x="92.1" y="341.76" text-anchor="end" font-size="7.75" stroke="#000" stroke-width="0.12">Iran-Kerman</text>
<line x1="92.7" y1="340.76" x2="95.8" y2="340.76" stroke="#000" stroke-width="0.8"/>
<rect x="103.40" y="344.10" width="55.00" height="6.69" fill="#7570b3" stroke="#000" stroke-width="0.9"/>
<rect x="158.40" y="344.10" width="12.60" height="6.69" fill="#d95f02" stroke="#000" stroke-width="0.9"/>
<rect x="171.00" y="344.10" width="1.20" height="6.69" fill="#e6ab02" stroke="#000" stroke-width="0.9"/>
<text x="92.1" y="348.45" text-anchor="end" font-size="7.75" stroke="#000" stroke-width="0.12">Tajikistan6</text>
<line x1="92.7" y1="347.45" x2="95.8" y2="347.45" stroke="#000" stroke-width="0.8"/>
<rect x="103.40" y="350.79" width="50.00" height="6.69" fill="#7570b3" stroke="#000" stroke-width="0.9"/>
<rect x="153.40" y="350.79" width="10.30" height="6.69" fill="#d95f02" stroke="#000" stroke-width="0.9"/>
<rect x="163.70" y="350.79" width="5.40" height="6.69" fill="#e6ab02" stroke="#000" stroke-width="0.9"/>
<rect x="169.10" y="350.79" width="3.40" height="6.69" fill="#ffff00" stroke="#000" stroke-width="0.9"/>
<text x="92.1" y="355.14" text-anchor="end" font-size="7.75" stroke="#000" stroke-width="0.12">Kyrgyzstan1</text>
<line x1="92.7" y1="354.14" x2="95.8" y2="354.14" stroke="#000" stroke-width="0.8"/>
<rect x="103.40" y="357.48" width="57.90" height="6.69" fill="#7570b3" stroke="#000" stroke-width="0.9"/>
<rect x="161.30" y="357.48" width="8.00" height="6.69" fill="#d95f02" stroke="#000" stroke-width="0.9"/>
<rect x="169.30" y="357.48" width="3.50" height="6.69" fill="#e6ab02" stroke="#000" stroke-width="0.9"/>
<text x="92.1" y="361.83" text-anchor="end" font-size="7.75" stroke="#000" stroke-width="0.12">China-Xinjiang5</text>
<line x1="92.7" y1="360.83" x2="95.8" y2="360.83" stroke="#000" stroke-width="0.8"/>
<rect x="103.40" y="364.17" width="52.90" height="6.69" fill="#7570b3" stroke="#000" stroke-width="0.9"/>
<rect x="156.30" y="364.17" width="12.30" height="6.69" fill="#d95f02" stroke="#000" stroke-width="0.9"/>
<rect x="168.60" y="364.17" width="3.40" height="6.69" fill="#e6ab02" stroke="#000" stroke-width="0.9"/>
<rect x="172.00" y="364.17" width="1.40" height="6.69" fill="#ffff00" stroke="#000" stroke-width="0.9"/>
<text x="92.1" y="368.52" text-anchor="end" font-size="7.75" stroke="#000" stroke-width="0.12">Tajikistan7</text>
<line x1="92.7" y1="367.52" x2="95.8" y2="367.52" stroke="#000" stroke-width="0.8"/>
<rect x="103.40" y="370.86" width="50.00" height="6.69" fill="#7570b3" stroke="#000" stroke-width="0.9"/>
<rect x="153.40" y="370.86" width="18.10" height="6.69" fill="#d95f02" stroke="#000" stroke-width="0.9"/>
<rect x="171.50" y="370.86" width="3.90" height="6.69" fill="#e6ab02" stroke="#000" stroke-width="0.9"/>
<text x="92.1" y="375.21" text-anchor="end" font-size="7.75" stroke="#000" stroke-width="0.12">Tajikistan5</text>
<line x1="92.7" y1="374.21" x2="95.8" y2="374.21" stroke="#000" stroke-width="0.8"/>
<rect x="103.40" y="377.55" width="56.80" height="6.69" fill="#7570b3" stroke="#000" stroke-width="0.9"/>
<rect x="160.20" y="377.55" width="10.30" height="6.69" fill="#d95f02" stroke="#000" stroke-width="0.9"/>
<rect x="170.50" y="377.55" width="5.40" height="6.69" fill="#e6ab02" stroke="#000" stroke-width="0.9"/>
<text x="92.1" y="381.90" text-anchor="end" font-size="7.75" stroke="#000" stroke-width="0.12">Iran</text>
<line x1="92.7" y1="380.90" x2="95.8" y2="380.90" stroke="#000" stroke-width="0.8"/>
<rect x="103.40" y="384.24" width="52.50" height="6.69" fill="#7570b3" stroke="#000" stroke-width="0.9"/>
<rect x="155.90" y="384.24" width="15.40" height="6.69" fill="#d95f02" stroke="#000" stroke-width="0.9"/>
<rect x="171.30" y="384.24" width="4.90" height="6.69" fill="#e6ab02" stroke="#000" stroke-width="0.9"/>
<text x="92.1" y="388.59" text-anchor="end" font-size="7.75" stroke="#000" stroke-width="0.12">Lebanon</text>
<line x1="92.7" y1="387.59" x2="95.8" y2="387.59" stroke="#000" stroke-width="0.8"/>
<rect x="103.40" y="390.93" width="57.40" height="6.69" fill="#7570b3" stroke="#000" stroke-width="0.9"/>
<rect x="160.80" y="390.93" width="9.80" height="6.69" fill="#d95f02" stroke="#000" stroke-width="0.9"/>
<rect x="170.60" y="390.93" width="5.60" height="6.69" fill="#e6ab02" stroke="#000" stroke-width="0.9"/>
<text x="92.1" y="395.28" text-anchor="end" font-size="7.75" stroke="#000" stroke-width="0.12">China-Xinjiang4</text>
<line x1="92.7" y1="394.28" x2="95.8" y2="394.28" stroke="#000" stroke-width="0.8"/>
<rect x="103.40" y="397.62" width="47.10" height="6.69" fill="#7570b3" stroke="#000" stroke-width="0.9"/>
<rect x="150.50" y="397.62" width="22.00" height="6.69" fill="#d95f02" stroke="#000" stroke-width="0.9"/>
<rect x="172.50" y="397.62" width="7.20" height="6.69" fill="#e6ab02" stroke="#000" stroke-width="0.9"/>
<text x="92.1" y="401.97" text-anchor="end" font-size="7.75" stroke="#000" stroke-width="0.12">Kyrgyzstan3</text>
<line x1="92.7" y1="400.97" x2="95.8" y2="400.97" stroke="#000" stroke-width="0.8"/>
<rect x="103.40" y="404.31" width="59.00" height="6.69" fill="#7570b3" stroke="#000" stroke-width="0.9"/>
<rect x="162.40" y="404.31" width="10.10" height="6.69" fill="#d95f02" stroke="#000" stroke-width="0.9"/>
<rect x="172.50" y="404.31" width="7.00" height="6.69" fill="#e6ab02" stroke="#000" stroke-width="0.9"/>
<rect x="179.50" y="404.31" width="5.10" height="6.69" fill="#ffff00" stroke="#000" stroke-width="0.9"/>
<text x="92.1" y="408.66" text-anchor="end" font-size="7.75" stroke="#000" stroke-width="0.12">China-InnerMong2</text>
<line x1="92.7" y1="407.66" x2="95.8" y2="407.66" stroke="#000" stroke-width="0.8"/>
<rect x="103.40" y="411.00" width="48.90" height="6.69" fill="#7570b3" stroke="#000" stroke-width="0.9"/>
<rect x="152.30" y="411.00" width="23.90" height="6.69" fill="#d95f02" stroke="#000" stroke-width="0.9"/>
<rect x="176.20" y="411.00" width="6.10" height="6.69" fill="#e6ab02" stroke="#000" stroke-width="0.9"/>
<rect x="182.30" y="411.00" width="3.20" height="6.69" fill="#ffff00" stroke="#000" stroke-width="0.9"/>
<text x="92.1" y="415.35" text-anchor="end" font-size="7.75" stroke="#000" stroke-width="0.12">Tajikistan3</text>
<line x1="92.7" y1="414.35" x2="95.8" y2="414.35" stroke="#000" stroke-width="0.8"/>
<rect x="103.40" y="417.69" width="43.00" height="6.69" fill="#7570b3" stroke="#000" stroke-width="0.9"/>
<rect x="146.40" y="417.69" width="29.80" height="6.69" fill="#d95f02" stroke="#000" stroke-width="0.9"/>
<rect x="176.20" y="417.69" width="13.40" height="6.69" fill="#e6ab02" stroke="#000" stroke-width="0.9"/>
<text x="92.1" y="422.04" text-anchor="end" font-size="7.75" stroke="#000" stroke-width="0.12">Kazakhstan</text>
<line x1="92.7" y1="421.04" x2="95.8" y2="421.04" stroke="#000" stroke-width="0.8"/>
<rect x="103.40" y="424.38" width="57.00" height="6.69" fill="#7570b3" stroke="#000" stroke-width="0.9"/>
<rect x="160.40" y="424.38" width="14.10" height="6.69" fill="#d95f02" stroke="#000" stroke-width="0.9"/>
<rect x="174.50" y="424.38" width="7.70" height="6.69" fill="#e6ab02" stroke="#000" stroke-width="0.9"/>
<rect x="182.20" y="424.38" width="10.10" height="6.69" fill="#ffff00" stroke="#000" stroke-width="0.9"/>
<text x="92.1" y="428.73" text-anchor="end" font-size="7.75" stroke="#000" stroke-width="0.12">China-InnerMong1</text>
<line x1="92.7" y1="427.73" x2="95.8" y2="427.73" stroke="#000" stroke-width="0.8"/>
<rect x="103.40" y="431.07" width="67.00" height="6.69" fill="#7570b3" stroke="#000" stroke-width="0.9"/>
<rect x="170.40" y="431.07" width="20.90" height="6.69" fill="#d95f02" stroke="#000" stroke-width="0.9"/>
<rect x="191.30" y="431.07" width="4.20" height="6.69" fill="#e6ab02" stroke="#000" stroke-width="0.9"/>
<text x="92.1" y="435.42" text-anchor="end" font-size="7.75" stroke="#000" stroke-width="0.12">China-Qinghai1</text>
<line x1="92.7" y1="434.42" x2="95.8" y2="434.42" stroke="#000" stroke-width="0.8"/>
<rect x="103.40" y="437.76" width="70.80" height="6.69" fill="#7570b3" stroke="#000" stroke-width="0.9"/>
<rect x="174.20" y="437.76" width="23.70" height="6.69" fill="#d95f02" stroke="#000" stroke-width="0.9"/>
<rect x="197.90" y="437.76" width="7.60" height="6.69" fill="#e6ab02" stroke="#000" stroke-width="0.9"/>
<rect x="205.50" y="437.76" width="0.90" height="6.69" fill="#ffff00" stroke="#000" stroke-width="0.9"/>
<text x="92.1" y="442.11" text-anchor="end" font-size="7.75" stroke="#000" stroke-width="0.12">China-Qinghai2</text>
<line x1="92.7" y1="441.11" x2="95.8" y2="441.11" stroke="#000" stroke-width="0.8"/>
<rect x="103.40" y="444.45" width="46.50" height="6.69" fill="#7570b3" stroke="#000" stroke-width="0.9"/>
<rect x="149.90" y="444.45" width="29.40" height="6.69" fill="#d95f02" stroke="#000" stroke-width="0.9"/>
<rect x="179.30" y="444.45" width="17.60" height="6.69" fill="#e6ab02" stroke="#000" stroke-width="0.9"/>
<rect x="196.90" y="444.45" width="19.40" height="6.69" fill="#ffff00" stroke="#000" stroke-width="0.9"/>
<text x="92.1" y="448.80" text-anchor="end" font-size="7.75" stroke="#000" stroke-width="0.12">Portugal</text>
<line x1="92.7" y1="447.80" x2="95.8" y2="447.80" stroke="#000" stroke-width="0.8"/>
<rect x="103.40" y="451.14" width="91.60" height="6.69" fill="#7570b3" stroke="#000" stroke-width="0.9"/>
<rect x="195.00" y="451.14" width="20.30" height="6.69" fill="#d95f02" stroke="#000" stroke-width="0.9"/>
<rect x="215.30" y="451.14" width="6.70" height="6.69" fill="#e6ab02" stroke="#000" stroke-width="0.9"/>
<text x="92.1" y="455.49" text-anchor="end" font-size="7.75" stroke="#000" stroke-width="0.12" font-weight="bold">India Gujarat</text>
<line x1="92.7" y1="454.49" x2="95.8" y2="454.49" stroke="#000" stroke-width="0.8"/>
<rect x="103.40" y="457.83" width="96.90" height="6.69" fill="#7570b3" stroke="#000" stroke-width="0.9"/>
<rect x="200.30" y="457.83" width="23.70" height="6.69" fill="#d95f02" stroke="#000" stroke-width="0.9"/>
<rect x="224.00" y="457.83" width="3.70" height="6.69" fill="#e6ab02" stroke="#000" stroke-width="0.9"/>
<text x="92.1" y="462.18" text-anchor="end" font-size="7.75" stroke="#000" stroke-width="0.12" font-weight="bold">India Maharashtra</text>
<line x1="92.7" y1="461.18" x2="95.8" y2="461.18" stroke="#000" stroke-width="0.8"/>
<rect x="103.40" y="464.52" width="74.90" height="6.69" fill="#7570b3" stroke="#000" stroke-width="0.9"/>
<rect x="178.30" y="464.52" width="42.90" height="6.69" fill="#d95f02" stroke="#000" stroke-width="0.9"/>
<rect x="221.20" y="464.52" width="14.10" height="6.69" fill="#e6ab02" stroke="#000" stroke-width="0.9"/>
<rect x="235.30" y="464.52" width="0.70" height="6.69" fill="#ffff00" stroke="#000" stroke-width="0.9"/>
<text x="92.1" y="468.87" text-anchor="end" font-size="7.75" stroke="#000" stroke-width="0.12" font-weight="bold">Tibet Ngari</text>
<line x1="92.7" y1="467.87" x2="95.8" y2="467.87" stroke="#000" stroke-width="0.8"/>
<rect x="103.40" y="471.21" width="82.50" height="6.69" fill="#7570b3" stroke="#000" stroke-width="0.9"/>
<rect x="185.90" y="471.21" width="50.50" height="6.69" fill="#d95f02" stroke="#000" stroke-width="0.9"/>
<rect x="236.40" y="471.21" width="10.20" height="6.69" fill="#e6ab02" stroke="#000" stroke-width="0.9"/>
<rect x="246.60" y="471.21" width="1.90" height="6.69" fill="#ffff00" stroke="#000" stroke-width="0.9"/>
<text x="92.1" y="475.56" text-anchor="end" font-size="7.75" stroke="#000" stroke-width="0.12" font-weight="bold">Tibet Lhasa</text>
<line x1="92.7" y1="474.56" x2="95.8" y2="474.56" stroke="#000" stroke-width="0.8"/>
<rect x="103.40" y="477.90" width="21.80" height="6.69" fill="#7570b3" stroke="#000" stroke-width="0.9"/>
<rect x="125.20" y="477.90" width="38.60" height="6.69" fill="#d95f02" stroke="#000" stroke-width="0.9"/>
<rect x="163.80" y="477.90" width="41.60" height="6.69" fill="#e6ab02" stroke="#000" stroke-width="0.9"/>
<rect x="205.40" y="477.90" width="55.90" height="6.69" fill="#ffff00" stroke="#000" stroke-width="0.9"/>
<text x="92.1" y="482.25" text-anchor="end" font-size="7.75" stroke="#000" stroke-width="0.12">Mexican</text>
<line x1="92.7" y1="481.25" x2="95.8" y2="481.25" stroke="#000" stroke-width="0.8"/>
<line x1="95.8" y1="209.30" x2="95.8" y2="485.5" stroke="#000" stroke-width="1.2"/>
<line x1="95.8" y1="485.5" x2="268" y2="485.5" stroke="#000" stroke-width="1.2"/>
<line x1="103.40" y1="485.5" x2="103.40" y2="488" stroke="#000" stroke-width="0.9"/>
<text x="102.20" y="496" text-anchor="middle" font-size="11">0</text>
<line x1="148.90" y1="485.5" x2="148.90" y2="488" stroke="#000" stroke-width="0.9"/>
<text x="148.90" y="496" text-anchor="middle" font-size="11">0.5</text>
<line x1="194.40" y1="485.5" x2="194.40" y2="488" stroke="#000" stroke-width="0.9"/>
<text x="194.30" y="496" text-anchor="middle" font-size="11">1</text>
<line x1="239.90" y1="485.5" x2="239.90" y2="488" stroke="#000" stroke-width="0.9"/>
<text x="239.80" y="496" text-anchor="middle" font-size="11">1.5</text>
<text x="180.5" y="511.8" text-anchor="middle" font-size="15">ROH length (Gb)</text>
<rect x="230" y="300.6" width="16.8" height="15.6" fill="#7570b3" stroke="#000" stroke-width="1.4"/>
<text x="252.8" y="314.0" font-size="16.8">0.1-1Mb</text>
<rect x="230" y="321.5" width="16.8" height="15.6" fill="#d95f02" stroke="#000" stroke-width="1.4"/>
<text x="255.3" y="334.9" font-size="16.8">1-5Mb</text>
<rect x="230" y="342.4" width="16.8" height="15.6" fill="#e6ab02" stroke="#000" stroke-width="1.4"/>
<text x="257.3" y="355.8" font-size="16.8">5-10Mb</text>
<rect x="230" y="363.6" width="16.8" height="15.6" fill="#ffff00" stroke="#000" stroke-width="1.4"/>
<text x="252.8" y="377.0" font-size="16.8">10-100Mb</text>
<svg x="397.2" y="247.1" width="242" height="194.3" viewBox="397.2 247.1 242 194.3" overflow="hidden">
<path d="M415.2,350.0H442.3V350.0H448.9V327.1H454.9V306.2H461.4V290.9H468.2V280.8H475.1V279.7H481.0V285.9H487.2V302.2H493.1V311.6H500.1V318.6H506.9V321.1H512.7V323.4H519.9V324.7H527.2V325.0H534.1V327.5H541.1V331.0H547.6V331.9H553.9V333.8H561.3V332.2H568.0V329.2H575.1V323.7H582.5V315.1H589.7V303.4H597.7V292.1H605.9V282.9H614.9V278.1H623.6" fill="none" stroke="#9acd32" stroke-opacity="0.78" stroke-width="1.5"/>
<path d="M417.3,350.4H436.3V350.7H442.6V331.1H448.0V309.6H454.0V296.0H459.8V289.8H465.2V285.5H471.4V282.8H476.7V291.2H482.8V306.5H488.1V315.1H493.8V316.5H499.3V321.4H504.8V322.0H511.4V322.0H517.8V322.3H523.4V322.5H529.9V323.2H535.6V326.1H541.6V326.4H548.5V329.1H555.2V329.2H561.2V330.2H568.7V327.8H575.1V321.6H581.7V313.4H589.3V304.6H596.4V295.0H603.5V298.3H610.4V304.1H617.5V309.6H619.2" fill="none" stroke="#9acd32" stroke-opacity="0.78" stroke-width="1.5"/>
<path d="M416.3,353.6H443.3V340.4H448.8V326.3H454.5V302.4H459.6V294.6H464.9V288.6H470.5V286.8H476.5V292.4H481.7V302.5H487.3V314.5H493.8V321.6H500.4V324.0H506.4V326.3H512.6V327.8H518.5V328.5H523.8V329.2H528.9V329.6H534.2V331.7H540.9V334.2H547.5V337.3H554.6V340.5H560.4V340.6H567.2V341.5H574.0V336.1H581.3V331.2H588.1V322.4H596.1V314.7H602.8V303.1H610.4V291.1H618.4V285.4H620.8" fill="none" stroke="#9acd32" stroke-opacity="0.78" stroke-width="1.5"/>
<path d="M418.4,356.6H434.6V357.2H440.9V344.4H447.1V316.9H454.5V296.0H461.5V286.6H468.1V277.3H475.5V282.2H482.0V294.8H489.0V306.9H495.3V316.2H501.9V318.6H509.1V320.5H516.6V322.8H523.9V323.9H530.6V327.5H537.7V328.7H544.6V330.5H551.3V331.6H558.8V333.5H567.0V330.5H575.4V323.7H583.8V312.7H592.8V301.9H600.9V291.8H609.0V283.0H617.8V278.8H620.6" fill="none" stroke="#9acd32" stroke-opacity="0.78" stroke-width="1.5"/>
<path d="M415.3,359.6H431.5V359.6H437.7V357.8H444.2V347.0H450.7V320.3H457.8V304.1H464.7V292.1H471.7V284.3H478.9V286.2H485.5V301.4H492.8V314.7H500.2V320.8H506.4V323.5H513.8V323.6H521.0V326.3H527.2V326.4H534.1V329.7H541.5V329.7H549.4V330.5H556.7V330.9H564.5V326.0H573.0V318.3H581.5V307.2H590.5V293.9H598.9V288.3H607.8V295.2H616.3V303.7H619.8" fill="none" stroke="#9acd32" stroke-opacity="0.78" stroke-width="1.5"/>
<path d="M415.4,360.0H432.5V358.6H438.7V346.1H445.6V321.5H452.3V301.5H458.9V286.4H466.0V278.6H472.6V277.9H478.9V290.6H485.2V307.7H492.3V314.7H499.5V321.5H505.6V322.8H512.7V325.3H519.9V327.6H526.5V330.9H533.3V332.6H539.7V335.7H546.7V339.6H553.9V341.1H561.4V343.5H568.1V341.3H576.5V336.3H584.3V327.1H592.2V318.0H600.9V304.4H609.4V289.2H617.9V277.1H627.0V272.3H627.5" fill="none" stroke="#9acd32" stroke-opacity="0.78" stroke-width="1.5"/>
<path d="M415.7,362.5H434.2V363.6H440.9V362.5H448.2V341.9H455.0V315.5H462.3V299.1H468.6V288.3H475.6V283.8H482.8V292.1H490.2V307.1H496.6V317.5H503.0V321.9H510.3V325.1H516.6V326.3H524.1V329.4H531.5V331.7H537.9V333.9H544.5V336.5H552.2V340.1H559.2V344.4H566.2V342.9H574.5V339.2H582.4V330.5H591.0V321.8H598.7V308.9H607.1V288.6H616.2V277.5H619.6" fill="none" stroke="#9acd32" stroke-opacity="0.78" stroke-width="1.5"/>
<path d="M412.1,363.0H438.2V350.4H445.0V337.5H451.3V308.1H457.3V295.3H463.2V289.9H469.6V287.5H475.3V290.5H482.4V305.4H489.3V314.7H496.0V318.4H503.0V319.7H509.7V320.7H516.0V319.8H522.6V320.1H529.1V320.3H536.5V321.3H543.8V321.7H550.4V324.5H558.1V326.1H565.8V323.0H573.7V317.7H581.9V308.3H589.6V297.8H598.2V288.6H607.0V284.2H615.7V284.7H624.7V286.2H625.0" fill="none" stroke="#9acd32" stroke-opacity="0.78" stroke-width="1.5"/>
<path d="M415.9,366.9H443.5V355.0H450.9V340.4H458.6V293.2H465.1V283.3H472.4V275.5H480.0V274.2H486.5V291.5H494.4V302.6H501.0V308.9H508.2V313.3H514.8V312.9H522.0V314.9H529.4V317.5H536.2V319.2H544.5V320.8H552.2V323.0H560.2V322.3H568.6V318.2H576.8V309.1H585.1V297.7H594.1V285.2H603.3V286.2H612.2V293.8H622.1V300.5H623.1" fill="none" stroke="#9acd32" stroke-opacity="0.78" stroke-width="1.5"/>
<path d="M412.9,370.5H436.9V361.2H443.2V342.3H449.2V314.5H455.8V294.0H462.0V278.6H469.0V270.2H475.9V271.4H482.4V282.1H488.2V293.5H493.7V304.0H500.5V312.2H507.2V315.9H513.5V318.1H519.5V318.9H525.3V321.9H531.8V324.3H538.4V327.7H545.1V327.2H552.0V327.4H559.3V327.0H565.8V321.9H572.5V315.3H580.6V304.8H588.7V291.5H597.0V279.2H604.1V271.2H611.4V264.9H619.2V263.8H622.4" fill="none" stroke="#9acd32" stroke-opacity="0.78" stroke-width="1.5"/>
<path d="M412.5,371.8H435.3V367.1H441.8V346.0H449.0V322.0H455.0V301.8H461.3V286.0H468.4V276.8H474.4V274.1H480.9V279.8H488.0V298.5H495.1V309.5H501.5V312.0H507.7V314.7H514.2V317.2H521.3V319.0H527.9V321.1H534.2V324.2H541.7V326.0H549.1V328.3H557.2V328.0H565.5V326.5H574.0V320.6H582.0V309.3H590.7V297.8H598.8V289.3H607.1V283.3H615.8V279.9H618.8" fill="none" stroke="#9acd32" stroke-opacity="0.78" stroke-width="1.5"/>
<path d="M416.4,373.3H441.4V359.4H447.1V346.3H453.7V311.2H459.8V294.5H466.4V277.8H472.4V271.6H478.3V270.6H485.1V283.2H491.6V299.6H497.7V308.1H503.9V313.3H510.4V318.2H516.9V320.8H523.7V324.1H529.8V325.3H536.6V328.8H543.4V333.6H550.6V337.9H557.9V341.5H565.4V342.6H573.2V339.2H581.2V332.2H588.9V323.8H596.5V316.1H604.6V300.9H613.1V291.6H619.4" fill="none" stroke="#9acd32" stroke-opacity="0.78" stroke-width="1.5"/>
<path d="M414.2,375.7H440.0V364.1H446.8V347.1H453.6V315.5H459.5V301.3H465.8V290.7H472.6V283.3H478.8V286.5H484.5V298.6H489.9V309.6H496.8V320.1H503.5V324.2H509.5V327.4H515.7V328.0H521.9V330.0H527.7V330.9H534.8V334.0H541.5V334.3H547.8V335.7H553.7V333.5H560.6V333.4H567.4V328.0H575.1V320.2H582.8V308.9H590.5V296.2H597.6V287.8H604.9V285.1H612.6V286.1H620.4V287.5H623.5" fill="none" stroke="#9acd32" stroke-opacity="0.78" stroke-width="1.5"/>
<path d="M414.1,378.8H438.7V366.8H444.9V349.8H451.4V305.5H458.1V288.1H465.7V278.6H472.9V277.6H480.0V284.3H485.9V300.6H492.5V313.9H499.6V318.4H505.9V321.3H512.8V323.8H519.5V325.7H525.5V328.4H533.2V332.1H540.7V334.0H547.5V337.5H555.1V337.3H562.3V336.4H569.9V332.8H577.9V325.5H585.7V314.2H593.8V302.6H602.1V297.7H611.1V298.2H619.6V299.4H622.7" fill="none" stroke="#9acd32" stroke-opacity="0.78" stroke-width="1.5"/>
<path d="M414.8,382.7H442.6V367.2H449.5V355.6H455.4V313.6H461.9V294.2H468.4V279.1H475.3V274.5H481.4V269.9H488.0V284.0H494.7V297.8H501.9V306.8H509.1V311.1H516.0V312.2H522.2V315.0H529.4V317.4H537.0V319.4H544.2V321.5H551.3V322.5H558.7V324.9H565.8V321.2H573.9V315.8H582.7V304.1H590.9V293.2H599.7V286.6H608.8V285.6H617.1V290.2H625.0" fill="none" stroke="#9acd32" stroke-opacity="0.78" stroke-width="1.5"/>
<path d="M412.5,384.3H430.7V385.5H438.1V385.4H444.9V371.3H452.3V345.6H459.8V319.8H466.7V302.1H473.9V289.2H481.5V283.2H487.9V287.7H494.5V301.5H501.6V314.0H508.1V318.5H515.1V321.2H522.3V324.0H528.9V326.2H536.3V328.2H543.5V332.0H551.3V336.2H558.9V337.6H567.2V337.0H574.7V330.5H583.5V321.5H591.6V311.9H601.3V304.8H610.6V302.4H618.3" fill="none" stroke="#9acd32" stroke-opacity="0.78" stroke-width="1.5"/>
<path d="M412.4,388.6H434.7V372.6H440.7V357.6H446.5V328.1H452.1V312.7H459.0V300.4H465.9V291.5H472.4V291.7H479.3V298.9H485.4V312.5H492.1V319.0H497.9V323.5H504.5V324.9H510.8V323.0H517.7V323.6H523.3V322.8H530.0V324.3H535.9V323.0H542.5V325.5H550.0V328.8H556.1V329.4H562.7V330.3H569.5V328.0H576.5V322.0H583.3V312.0H591.5V302.9H599.8V299.1H607.6V301.8H615.5V308.8H624.0V313.7H624.9" fill="none" stroke="#9acd32" stroke-opacity="0.78" stroke-width="1.5"/>
<path d="M414.2,390.9H432.5V375.2H438.9V359.9H445.5V313.1H451.4V293.3H457.8V277.7H464.6V269.7H470.8V269.5H476.5V276.2H482.3V291.1H489.1V304.3H495.5V309.7H501.3V313.3H507.7V316.1H513.1V316.6H520.0V320.2H526.1V321.4H532.4V324.8H538.8V326.9H544.6V330.5H551.5V333.7H557.9V336.0H564.5V335.7H572.0V332.0H578.6V327.7H585.7V318.2H593.6V310.9H600.9V300.7H608.4V289.9H616.5V284.7H624.2V281.5H625.1" fill="none" stroke="#9acd32" stroke-opacity="0.78" stroke-width="1.5"/>
<path d="M416.0,391.4H434.2V378.6H440.0V361.7H445.7V318.1H451.4V303.7H456.9V288.8H463.2V281.7H468.3V280.2H474.8V285.6H480.7V296.5H486.6V308.1H492.9V318.9H498.3V320.9H503.6V323.1H509.1V323.3H514.2V324.5H519.7V326.6H525.8V327.6H531.7V329.6H537.4V332.7H543.7V335.0H549.4V338.1H556.3V342.1H562.4V342.5H568.7V341.3H574.9V338.0H582.2V331.9H589.8V322.5H597.5V314.8H604.2V298.8H611.6V284.0H619.1V270.3H626.5V265.2H626.7" fill="none" stroke="#9acd32" stroke-opacity="0.78" stroke-width="1.5"/>
<path d="M415.2,395.1H441.4V380.9H447.8V367.6H454.4V298.2H460.8V285.7H467.8V277.4H474.2V274.5H480.6V286.2H487.0V299.1H493.9V310.5H500.4V313.2H507.3V314.6H514.9V316.3H522.1V317.2H529.6V318.4H536.3V320.3H543.4V326.2H550.2V329.9H558.1V335.0H565.7V336.1H573.3V334.2H580.7V328.4H588.6V321.8H596.8V312.8H605.3V298.1H615.0V287.4H621.9" fill="none" stroke="#9acd32" stroke-opacity="0.78" stroke-width="1.5"/>
<path d="M415.5,390.6H438.6V374.7H445.1V360.7H451.8V328.4H457.8V312.4H464.0V297.4H470.5V291.3H476.7V293.2H483.3V299.4H489.1V306.3H495.1V308.9H502.0V310.6H508.6V310.7H515.2V311.9H522.2V313.4H528.7V315.0H534.8V317.6H542.2V320.6H549.5V323.8H557.1V326.9H564.7V330.7H573.2V326.1H580.8V319.4H589.3V309.7H597.3V303.0H605.8V297.6H614.7V293.9H623.2V294.2H627.6" fill="none" stroke="#20b2aa" stroke-opacity="0.78" stroke-width="1.6"/>
<path d="M410.2,392.3H426.6V392.5H432.9V393.0H439.1V373.0H445.7V349.2H452.0V327.5H458.5V310.9H464.4V295.5H471.0V292.6H477.3V294.4H482.9V301.9H489.5V309.5H495.1V308.6H500.4V311.9H505.6V311.5H511.4V313.8H516.7V315.1H523.2V316.5H529.9V319.1H535.4V320.7H541.0V323.6H547.3V327.7H553.1V329.8H559.7V333.9H566.8V336.1H573.2V331.6H580.0V327.6H587.7V319.0H594.9V314.1H602.0V307.2H610.1V303.5H618.3V303.1H626.7V302.4H627.8" fill="none" stroke="#20b2aa" stroke-opacity="0.78" stroke-width="1.6"/>
<path d="M413.9,396.9H435.4V382.4H442.0V370.1H448.3V328.8H455.5V309.4H461.4V290.9H468.6V284.1H475.8V283.6H482.3V289.2H489.4V299.7H496.2V300.0H503.0V302.9H509.2V304.4H515.5V307.7H521.8V308.6H528.1V312.7H535.6V314.8H542.3V317.7H549.2V319.3H556.4V321.0H564.3V324.5H571.8V318.4H579.7V310.1H587.3V302.3H595.0V293.9H602.7V284.6H610.7V278.1H619.0V277.6H623.8" fill="none" stroke="#20b2aa" stroke-opacity="0.78" stroke-width="1.6"/>
<path d="M410.0,398.8H429.7V397.7H436.8V377.4H443.9V354.3H450.6V331.4H457.4V313.3H463.7V300.1H469.7V293.5H475.7V293.5H482.8V300.9H488.9V308.8H495.4V309.5H501.7V310.7H508.5V313.4H515.2V314.3H522.3V316.9H528.9V318.0H535.5V320.1H542.7V323.4H550.2V327.9H558.2V332.0H565.3V334.1H573.6V329.0H582.2V320.6H591.0V311.9H598.7V306.6H606.9V300.1H615.9V297.8H625.3V297.0H625.9" fill="none" stroke="#20b2aa" stroke-opacity="0.78" stroke-width="1.6"/>
<path d="M409.2,404.9H433.0V387.9H440.1V376.1H446.5V338.9H452.8V314.5H459.7V293.6H465.8V284.2H472.8V280.4H479.6V285.7H486.4V296.8H492.6V298.6H498.7V302.4H505.5V306.6H511.7V309.2H518.7V312.6H525.2V315.3H532.3V318.7H539.8V322.1H547.2V326.8H554.7V331.4H561.9V334.1H569.4V332.6H578.1V326.0H585.9V319.0H594.0V311.7H602.5V303.5H611.3V300.6H620.8V299.1H623.1" fill="none" stroke="#20b2aa" stroke-opacity="0.78" stroke-width="1.6"/>
<path d="M410.5,406.7H431.8V398.6H438.2V378.8H445.8V349.9H453.4V326.5H460.7V310.7H468.0V300.6H475.6V300.1H483.0V304.5H489.6V311.4H497.2V312.7H504.2V313.4H511.5V314.6H518.7V315.5H526.5V315.3H533.7V317.4H541.7V320.2H548.8V323.5H556.4V327.6H564.7V331.0H573.2V325.6H582.2V316.1H590.5V307.5H599.9V299.2H609.6V294.6H618.4V292.7H620.5" fill="none" stroke="#20b2aa" stroke-opacity="0.78" stroke-width="1.6"/>
<path d="M410.1,411.1H428.1V400.7H435.5V385.0H442.6V360.7H449.6V336.1H455.7V317.3H462.4V299.5H469.2V291.9H476.3V293.0H482.8V298.8H488.7V306.3H496.1V305.7H502.3V306.1H509.3V306.5H515.9V307.6H523.0V307.5H529.4V309.1H535.6V309.8H542.5V314.2H549.6V319.9H557.4V324.8H564.7V329.1H572.7V327.5H580.3V322.8H588.7V316.1H596.4V311.7H605.4V307.2H614.8V307.6H622.8V308.2H624.4" fill="none" stroke="#20b2aa" stroke-opacity="0.78" stroke-width="1.6"/>
<path d="M409.0,390.2H425.0V391.0H432.5V370.9H440.3V352.3H446.7V330.3H453.7V312.4H461.6V296.4H468.9V290.4H476.7V291.6H483.2V296.6H490.2V302.6H497.0V306.7H504.2V310.3H511.4V312.5H517.7V315.2H524.4V318.6H531.3V321.2H539.3V326.5H547.4V327.6H554.6V328.7H563.1V329.3H570.7V323.0H579.3V316.8H587.3V311.3H595.3V305.1H604.8V299.3H613.6V299.8H618.0" fill="none" stroke="#8fa88f" stroke-opacity="1.0" stroke-width="1.6"/>
<path d="M408,421H435.8V404.6H449.5V374H460V362H466V344H470V325H476V318H486V320H495V322H505V318H515V314H525V313H535V316H545V320H555V326H565V328H575V326H583V318H590V306H597V300H605V296H613V295H620V294H626" fill="none" stroke="#2ee02e" stroke-width="1.5"/>
<path d="M414,398H432V392H440V380H446V362H452V352H458V344H462V330H468V318H474V306H480V301H488V304H495V309H505V313H515V316H525V318H535V320H545V324H555V330H565V331H575V328H583V322H590V310H597V303H605V297H613V293H620V292H626" fill="none" stroke="#2ee02e" stroke-width="1.5"/>
<path d="M597,300H602.3V273.3H608.1V264H615.1V257H621V255H627.9" fill="none" stroke="#9acd32" stroke-opacity="0.78" stroke-width="1.5"/>
<path d="M411,429.7H423V423.7H434V411.8H443V397.9H452V384.6H460V366H467V347.4H469V326.6H475V290.8H482V273.3H489V288.2H496V301.2H501V297.8H508V284.9H515V277.9H521V279H527V281.4H534V288.4H540V301.2H546V304.7H551V313" fill="none" stroke="#4545f0" stroke-width="1.6"/>
<path d="M421,390H433V375.6H449V342.3H461V323H470.6V326.6H481.1V334.4H493V332.6H509V331.4H519V330.2H528V332.6H535V336H542V339.5H551V341.9H560V339.5H570V332.6H579V325.6H588V312.8H598V304.7H605V303.5H612V305.8H620V308.1" fill="none" stroke="#f00000" stroke-width="2.6"/>
<path d="M408.4,420.5H426V427.3H433.5V431.4H450V429.3H457.2V416H463V391H474.7V355.6H476V356H483.5V328.3H489.8V313.6H503.2V318H509.3V316.3H518.6V310.5H527.9V309.3H537.2V311.6H546.5V317.4H555.8V324.4H565.1V327.9H574.4V326.7H581.4V322H588.4V315.1H594.2V309.3H600V301.2H607V296.5H611.6V294.2" fill="none" stroke="#f09c1c" stroke-width="3.2"/>
<path d="M418,427.3H434V432.5H450V431H457.1V422H463V416H467.9V408.4H476.1V403H482.8V389.4H484V362.3H489.6V335.2H496.4V316.3H503V321H512V318H522V314H532V313H542V316H552V322H562V329H572V330H580V326H588V320H595V312H602V304H609V300H613V298" fill="none" stroke="#f09c1c" stroke-width="3.2"/>
<path d="M413,431H428V424.4H433.5V418.8H441.8V414.6H448.8V410.4H458.6V403.5H464.2V400H471V399H479V392H484V378.6H489V372H495V359H501V341H508V329H514V319H521V307H528V302.3H535V303.5H541V305.8H546.5V309.3H553.5V312.8H560.5V316.3H567.4V314.7H572V310.9H579V307H586V305.8H592V307.7H595.3V311.6H598.8V317.4H602.3V324.4H607V329H612.8V331.9" fill="none" stroke="#8c1d6e" stroke-width="3.1"/>
<path d="M413,433H432V428.6H436.3V424.4H443.2V420.2H450.2V416H460V409H467V404.9H472V401.6H479V394.9H487V378.6H495V362.3H500.5V345H506V335H512V326H520V316H530V311.6H540V313H546.5V315H558V319.8H570V319.8H581.4V317.4H593V316.3H600V319.8H603.5V326.7H609.3V326.7" fill="none" stroke="#8c1d6e" stroke-width="3.4"/>
</svg>
<rect x="397.4" y="247.5" width="242" height="193.9" fill="none" stroke="#000" stroke-width="1.1"/>
<line x1="394.6" y1="306.4" x2="397.2" y2="306.4" stroke="#111" stroke-width="0.9"/>
<text x="394" y="311.5" text-anchor="end" font-size="15.5">10</text>
<line x1="394.6" y1="372.4" x2="397.2" y2="372.4" stroke="#111" stroke-width="0.9"/>
<text x="394" y="377.5" text-anchor="end" font-size="15.5">5</text>
<line x1="394.6" y1="438.3" x2="397.2" y2="438.3" stroke="#111" stroke-width="0.9"/>
<text x="394" y="443.4" text-anchor="end" font-size="15.5">0</text>
<line x1="411.6" y1="441.4" x2="411.6" y2="444" stroke="#111" stroke-width="0.9"/>
<line x1="487.3" y1="441.4" x2="487.3" y2="444" stroke="#111" stroke-width="0.9"/>
<line x1="563.1" y1="441.4" x2="563.1" y2="444" stroke="#111" stroke-width="0.9"/>
<line x1="638.9" y1="441.4" x2="638.9" y2="444" stroke="#111" stroke-width="0.9"/>
<text x="402.3" y="457.2" font-size="15.5">10</text><text x="419.4" y="450.6" font-size="10.5">4</text>
<text x="474.4" y="457.2" font-size="15.5">10</text><text x="491.5" y="450.6" font-size="10.5">5</text>
<text x="552.2" y="457.2" font-size="15.5">10</text><text x="569.3" y="450.6" font-size="10.5">6</text>
<text x="626.6" y="457.2" font-size="15.5">10</text><text x="643.7" y="450.6" font-size="10.5">7</text>
<text x="518.6" y="472" text-anchor="middle" font-size="15">Years before present</text>
<text transform="translate(368.7,451.9) rotate(-90)" font-size="15.4">Effective population size (x10<tspan dy="-10.2" font-size="9.6">4</tspan><tspan dy="10.2">)</tspan></text>
<line x1="307.2" y1="487" x2="328.1" y2="487" stroke="#8c1d6e" stroke-width="2.8"/>
<text x="332" y="492.1" font-size="15">Indian</text>
<line x1="391.1" y1="487.8" x2="412.2" y2="487.8" stroke="#b5d86c" stroke-width="2.8"/>
<text x="415.7" y="492" font-size="15">Central Asia</text>
<line x1="507" y1="487.8" x2="527.7" y2="487.8" stroke="#55e055" stroke-width="2.8"/>
<text x="532.4" y="491.8" font-size="15">Europe</text>
<line x1="613" y1="487" x2="633.3" y2="487" stroke="#4a4af5" stroke-width="2.8"/>
<text x="637.8" y="491.7" font-size="15">Mexico</text>
<line x1="293" y1="505.4" x2="313.2" y2="505.4" stroke="#f09c1c" stroke-width="2.8"/>
<text x="314.9" y="509.3" font-size="15">Tibetan</text>
<line x1="372" y1="504.4" x2="392" y2="504.4" stroke="#5cc4c4" stroke-width="2.8"/>
<text x="395.2" y="508.8" font-size="15">Southwest Asia</text>
<line x1="506.6" y1="502.4" x2="527" y2="502.4" stroke="#8fa88f" stroke-width="2.8"/>
<text x="531.8" y="507.1" font-size="15">InnerMong</text>
<line x1="612.2" y1="503.3" x2="632.5" y2="503.3" stroke="#ff0000" stroke-width="2.8"/>
<text x="637.8" y="507.9" font-size="15">Shanxi</text>
</svg>
</body></html>
